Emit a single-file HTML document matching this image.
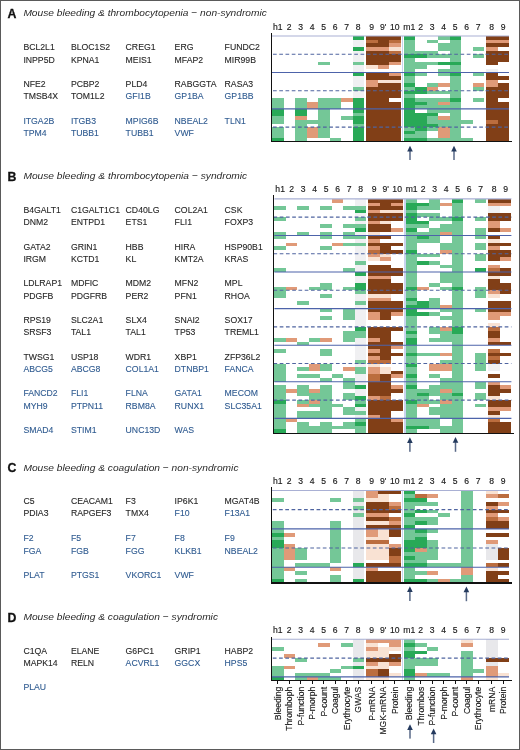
<!DOCTYPE html>
<html><head><meta charset="utf-8"><style>
html,body{margin:0;padding:0;background:#fff;}
body{width:520px;height:750px;overflow:hidden;position:relative;}
svg{position:absolute;left:0;top:0;display:block;filter:blur(0.3px);}
text{font-family:"Liberation Sans",sans-serif;}
.hd{font-size:8.6px;fill:#1a1a1a;text-anchor:middle;stroke:#1a1a1a;stroke-width:0.15px;}
.rl{font-size:8.6px;fill:#1a1a1a;text-anchor:end;stroke:#1a1a1a;stroke-width:0.15px;}
.pl{font-size:12.3px;font-weight:bold;fill:#111;stroke:#111;stroke-width:0.3px;}
.ti{font-size:9.6px;font-style:italic;fill:#2a2a2a;}
.gk{font-size:8.7px;fill:#262626;stroke:#262626;stroke-width:0.1px;}
.gb{font-size:8.7px;fill:#2e5a90;stroke:#2e5a90;stroke-width:0.1px;}
</style></head><body>
<svg width="520" height="750" viewBox="0 0 520 750" shape-rendering="crispEdges">
<rect x="0" y="0" width="520" height="750" fill="#fff"/>
<rect x="401.60" y="36.00" width="1.80" height="105.73" fill="#c9d4ee"/>
<rect x="352.50" y="36.00" width="11.50" height="3.65" fill="#28a957"/>
<rect x="366.00" y="36.00" width="11.50" height="3.65" fill="#813f17"/>
<rect x="377.50" y="36.00" width="11.50" height="3.65" fill="#813f17"/>
<rect x="389.00" y="36.00" width="11.50" height="3.65" fill="#813f17"/>
<rect x="403.50" y="36.00" width="11.50" height="3.65" fill="#28a957"/>
<rect x="438.00" y="36.00" width="11.50" height="3.65" fill="#74c797"/>
<rect x="449.50" y="36.00" width="11.50" height="3.65" fill="#28a957"/>
<rect x="486.00" y="36.00" width="11.50" height="3.65" fill="#813f17"/>
<rect x="497.50" y="36.00" width="11.50" height="3.65" fill="#813f17"/>
<rect x="352.50" y="39.65" width="11.50" height="3.65" fill="#f0f0f2"/>
<rect x="366.00" y="39.65" width="11.50" height="3.65" fill="#bb6d3e"/>
<rect x="377.50" y="39.65" width="11.50" height="3.65" fill="#813f17"/>
<rect x="389.00" y="39.65" width="11.50" height="3.65" fill="#bb6d3e"/>
<rect x="403.50" y="39.65" width="11.50" height="3.65" fill="#74c797"/>
<rect x="426.50" y="39.65" width="11.50" height="3.65" fill="#74c797"/>
<rect x="449.50" y="39.65" width="11.50" height="3.65" fill="#74c797"/>
<rect x="486.00" y="39.65" width="11.50" height="3.65" fill="#e09a78"/>
<rect x="497.50" y="39.65" width="11.50" height="3.65" fill="#e09a78"/>
<rect x="352.50" y="43.29" width="11.50" height="3.65" fill="#f0f0f2"/>
<rect x="366.00" y="43.29" width="11.50" height="3.65" fill="#813f17"/>
<rect x="377.50" y="43.29" width="11.50" height="3.65" fill="#813f17"/>
<rect x="389.00" y="43.29" width="11.50" height="3.65" fill="#e09a78"/>
<rect x="403.50" y="43.29" width="11.50" height="3.65" fill="#74c797"/>
<rect x="438.00" y="43.29" width="11.50" height="3.65" fill="#74c797"/>
<rect x="449.50" y="43.29" width="11.50" height="3.65" fill="#74c797"/>
<rect x="486.00" y="43.29" width="11.50" height="3.65" fill="#813f17"/>
<rect x="497.50" y="43.29" width="11.50" height="3.65" fill="#813f17"/>
<rect x="352.50" y="46.94" width="11.50" height="3.65" fill="#28a957"/>
<rect x="366.00" y="46.94" width="11.50" height="3.65" fill="#e09a78"/>
<rect x="377.50" y="46.94" width="11.50" height="3.65" fill="#e09a78"/>
<rect x="389.00" y="46.94" width="11.50" height="3.65" fill="#f9e2d3"/>
<rect x="403.50" y="46.94" width="11.50" height="3.65" fill="#74c797"/>
<rect x="438.00" y="46.94" width="11.50" height="3.65" fill="#74c797"/>
<rect x="449.50" y="46.94" width="11.50" height="3.65" fill="#74c797"/>
<rect x="472.50" y="46.94" width="11.50" height="3.65" fill="#74c797"/>
<rect x="486.00" y="46.94" width="11.50" height="3.65" fill="#e09a78"/>
<rect x="352.50" y="50.58" width="11.50" height="3.65" fill="#f0f0f2"/>
<rect x="366.00" y="50.58" width="11.50" height="3.65" fill="#813f17"/>
<rect x="377.50" y="50.58" width="11.50" height="3.65" fill="#813f17"/>
<rect x="389.00" y="50.58" width="11.50" height="3.65" fill="#bb6d3e"/>
<rect x="403.50" y="50.58" width="11.50" height="3.65" fill="#74c797"/>
<rect x="415.00" y="50.58" width="11.50" height="3.65" fill="#74c797"/>
<rect x="426.50" y="50.58" width="11.50" height="3.65" fill="#74c797"/>
<rect x="449.50" y="50.58" width="11.50" height="3.65" fill="#74c797"/>
<rect x="486.00" y="50.58" width="11.50" height="3.65" fill="#813f17"/>
<rect x="497.50" y="50.58" width="11.50" height="3.65" fill="#813f17"/>
<rect x="352.50" y="54.23" width="11.50" height="3.65" fill="#f0f0f2"/>
<rect x="366.00" y="54.23" width="11.50" height="3.65" fill="#813f17"/>
<rect x="377.50" y="54.23" width="11.50" height="3.65" fill="#813f17"/>
<rect x="389.00" y="54.23" width="11.50" height="3.65" fill="#813f17"/>
<rect x="403.50" y="54.23" width="11.50" height="3.65" fill="#28a957"/>
<rect x="415.00" y="54.23" width="11.50" height="3.65" fill="#28a957"/>
<rect x="426.50" y="54.23" width="11.50" height="3.65" fill="#74c797"/>
<rect x="438.00" y="54.23" width="11.50" height="3.65" fill="#74c797"/>
<rect x="449.50" y="54.23" width="11.50" height="3.65" fill="#74c797"/>
<rect x="472.50" y="54.23" width="11.50" height="3.65" fill="#74c797"/>
<rect x="486.00" y="54.23" width="11.50" height="3.65" fill="#813f17"/>
<rect x="497.50" y="54.23" width="11.50" height="3.65" fill="#813f17"/>
<rect x="352.50" y="57.88" width="11.50" height="3.65" fill="#f0f0f2"/>
<rect x="366.00" y="57.88" width="11.50" height="3.65" fill="#813f17"/>
<rect x="377.50" y="57.88" width="11.50" height="3.65" fill="#813f17"/>
<rect x="389.00" y="57.88" width="11.50" height="3.65" fill="#813f17"/>
<rect x="403.50" y="57.88" width="11.50" height="3.65" fill="#74c797"/>
<rect x="449.50" y="57.88" width="11.50" height="3.65" fill="#74c797"/>
<rect x="486.00" y="57.88" width="11.50" height="3.65" fill="#813f17"/>
<rect x="497.50" y="57.88" width="11.50" height="3.65" fill="#813f17"/>
<rect x="318.00" y="61.52" width="11.50" height="3.65" fill="#74c797"/>
<rect x="352.50" y="61.52" width="11.50" height="3.65" fill="#74c797"/>
<rect x="366.00" y="61.52" width="11.50" height="3.65" fill="#813f17"/>
<rect x="377.50" y="61.52" width="11.50" height="3.65" fill="#813f17"/>
<rect x="389.00" y="61.52" width="11.50" height="3.65" fill="#e09a78"/>
<rect x="403.50" y="61.52" width="11.50" height="3.65" fill="#74c797"/>
<rect x="415.00" y="61.52" width="11.50" height="3.65" fill="#74c797"/>
<rect x="426.50" y="61.52" width="11.50" height="3.65" fill="#74c797"/>
<rect x="438.00" y="61.52" width="11.50" height="3.65" fill="#28a957"/>
<rect x="449.50" y="61.52" width="11.50" height="3.65" fill="#28a957"/>
<rect x="486.00" y="61.52" width="11.50" height="3.65" fill="#813f17"/>
<rect x="352.50" y="65.17" width="11.50" height="3.65" fill="#f0f0f2"/>
<rect x="366.00" y="65.17" width="11.50" height="3.65" fill="#f9e2d3"/>
<rect x="377.50" y="65.17" width="11.50" height="3.65" fill="#e09a78"/>
<rect x="403.50" y="65.17" width="11.50" height="3.65" fill="#74c797"/>
<rect x="415.00" y="65.17" width="11.50" height="3.65" fill="#74c797"/>
<rect x="449.50" y="65.17" width="11.50" height="3.65" fill="#74c797"/>
<rect x="352.50" y="68.81" width="11.50" height="3.65" fill="#f0f0f2"/>
<rect x="403.50" y="68.81" width="11.50" height="3.65" fill="#74c797"/>
<rect x="438.00" y="68.81" width="11.50" height="3.65" fill="#74c797"/>
<rect x="449.50" y="68.81" width="11.50" height="3.65" fill="#74c797"/>
<rect x="486.00" y="68.81" width="11.50" height="3.65" fill="#f0f0f2"/>
<rect x="352.50" y="72.46" width="11.50" height="3.65" fill="#28a957"/>
<rect x="366.00" y="72.46" width="11.50" height="3.65" fill="#813f17"/>
<rect x="377.50" y="72.46" width="11.50" height="3.65" fill="#813f17"/>
<rect x="389.00" y="72.46" width="11.50" height="3.65" fill="#e09a78"/>
<rect x="403.50" y="72.46" width="11.50" height="3.65" fill="#28a957"/>
<rect x="415.00" y="72.46" width="11.50" height="3.65" fill="#74c797"/>
<rect x="438.00" y="72.46" width="11.50" height="3.65" fill="#74c797"/>
<rect x="449.50" y="72.46" width="11.50" height="3.65" fill="#28a957"/>
<rect x="472.50" y="72.46" width="11.50" height="3.65" fill="#74c797"/>
<rect x="486.00" y="72.46" width="11.50" height="3.65" fill="#813f17"/>
<rect x="352.50" y="76.11" width="11.50" height="3.65" fill="#f0f0f2"/>
<rect x="366.00" y="76.11" width="11.50" height="3.65" fill="#813f17"/>
<rect x="377.50" y="76.11" width="11.50" height="3.65" fill="#813f17"/>
<rect x="389.00" y="76.11" width="11.50" height="3.65" fill="#813f17"/>
<rect x="403.50" y="76.11" width="11.50" height="3.65" fill="#74c797"/>
<rect x="449.50" y="76.11" width="11.50" height="3.65" fill="#74c797"/>
<rect x="486.00" y="76.11" width="11.50" height="3.65" fill="#813f17"/>
<rect x="497.50" y="76.11" width="11.50" height="3.65" fill="#813f17"/>
<rect x="352.50" y="79.75" width="11.50" height="3.65" fill="#f0f0f2"/>
<rect x="366.00" y="79.75" width="11.50" height="3.65" fill="#e09a78"/>
<rect x="377.50" y="79.75" width="11.50" height="3.65" fill="#f9e2d3"/>
<rect x="389.00" y="79.75" width="11.50" height="3.65" fill="#f9e2d3"/>
<rect x="403.50" y="79.75" width="11.50" height="3.65" fill="#74c797"/>
<rect x="449.50" y="79.75" width="11.50" height="3.65" fill="#74c797"/>
<rect x="486.00" y="79.75" width="11.50" height="3.65" fill="#e09a78"/>
<rect x="352.50" y="83.40" width="11.50" height="3.65" fill="#f0f0f2"/>
<rect x="366.00" y="83.40" width="11.50" height="3.65" fill="#e09a78"/>
<rect x="377.50" y="83.40" width="11.50" height="3.65" fill="#813f17"/>
<rect x="389.00" y="83.40" width="11.50" height="3.65" fill="#813f17"/>
<rect x="403.50" y="83.40" width="11.50" height="3.65" fill="#28a957"/>
<rect x="426.50" y="83.40" width="11.50" height="3.65" fill="#74c797"/>
<rect x="438.00" y="83.40" width="11.50" height="3.65" fill="#e09a78"/>
<rect x="449.50" y="83.40" width="11.50" height="3.65" fill="#74c797"/>
<rect x="472.50" y="83.40" width="11.50" height="3.65" fill="#e09a78"/>
<rect x="486.00" y="83.40" width="11.50" height="3.65" fill="#e09a78"/>
<rect x="497.50" y="83.40" width="11.50" height="3.65" fill="#813f17"/>
<rect x="352.50" y="87.04" width="11.50" height="3.65" fill="#74c797"/>
<rect x="366.00" y="87.04" width="11.50" height="3.65" fill="#813f17"/>
<rect x="377.50" y="87.04" width="11.50" height="3.65" fill="#813f17"/>
<rect x="389.00" y="87.04" width="11.50" height="3.65" fill="#813f17"/>
<rect x="403.50" y="87.04" width="11.50" height="3.65" fill="#74c797"/>
<rect x="415.00" y="87.04" width="11.50" height="3.65" fill="#28a957"/>
<rect x="426.50" y="87.04" width="11.50" height="3.65" fill="#e09a78"/>
<rect x="449.50" y="87.04" width="11.50" height="3.65" fill="#74c797"/>
<rect x="472.50" y="87.04" width="11.50" height="3.65" fill="#74c797"/>
<rect x="486.00" y="87.04" width="11.50" height="3.65" fill="#813f17"/>
<rect x="497.50" y="87.04" width="11.50" height="3.65" fill="#813f17"/>
<rect x="352.50" y="90.69" width="11.50" height="3.65" fill="#f0f0f2"/>
<rect x="366.00" y="90.69" width="11.50" height="3.65" fill="#813f17"/>
<rect x="377.50" y="90.69" width="11.50" height="3.65" fill="#813f17"/>
<rect x="389.00" y="90.69" width="11.50" height="3.65" fill="#813f17"/>
<rect x="403.50" y="90.69" width="11.50" height="3.65" fill="#28a957"/>
<rect x="415.00" y="90.69" width="11.50" height="3.65" fill="#28a957"/>
<rect x="426.50" y="90.69" width="11.50" height="3.65" fill="#74c797"/>
<rect x="438.00" y="90.69" width="11.50" height="3.65" fill="#74c797"/>
<rect x="449.50" y="90.69" width="11.50" height="3.65" fill="#74c797"/>
<rect x="486.00" y="90.69" width="11.50" height="3.65" fill="#813f17"/>
<rect x="497.50" y="90.69" width="11.50" height="3.65" fill="#813f17"/>
<rect x="352.50" y="94.34" width="11.50" height="3.65" fill="#f0f0f2"/>
<rect x="366.00" y="94.34" width="11.50" height="3.65" fill="#813f17"/>
<rect x="377.50" y="94.34" width="11.50" height="3.65" fill="#813f17"/>
<rect x="389.00" y="94.34" width="11.50" height="3.65" fill="#813f17"/>
<rect x="403.50" y="94.34" width="11.50" height="3.65" fill="#74c797"/>
<rect x="449.50" y="94.34" width="11.50" height="3.65" fill="#74c797"/>
<rect x="486.00" y="94.34" width="11.50" height="3.65" fill="#813f17"/>
<rect x="497.50" y="94.34" width="11.50" height="3.65" fill="#813f17"/>
<rect x="272.00" y="97.98" width="11.50" height="3.65" fill="#74c797"/>
<rect x="295.00" y="97.98" width="11.50" height="3.65" fill="#74c797"/>
<rect x="318.00" y="97.98" width="11.50" height="3.65" fill="#74c797"/>
<rect x="329.50" y="97.98" width="11.50" height="3.65" fill="#74c797"/>
<rect x="341.00" y="97.98" width="11.50" height="3.65" fill="#e09a78"/>
<rect x="352.50" y="97.98" width="11.50" height="3.65" fill="#28a957"/>
<rect x="366.00" y="97.98" width="11.50" height="3.65" fill="#813f17"/>
<rect x="377.50" y="97.98" width="11.50" height="3.65" fill="#813f17"/>
<rect x="403.50" y="97.98" width="11.50" height="3.65" fill="#28a957"/>
<rect x="415.00" y="97.98" width="11.50" height="3.65" fill="#74c797"/>
<rect x="426.50" y="97.98" width="11.50" height="3.65" fill="#74c797"/>
<rect x="438.00" y="97.98" width="11.50" height="3.65" fill="#74c797"/>
<rect x="449.50" y="97.98" width="11.50" height="3.65" fill="#28a957"/>
<rect x="472.50" y="97.98" width="11.50" height="3.65" fill="#74c797"/>
<rect x="486.00" y="97.98" width="11.50" height="3.65" fill="#813f17"/>
<rect x="272.00" y="101.63" width="11.50" height="3.65" fill="#74c797"/>
<rect x="295.00" y="101.63" width="11.50" height="3.65" fill="#74c797"/>
<rect x="306.50" y="101.63" width="11.50" height="3.65" fill="#e09a78"/>
<rect x="318.00" y="101.63" width="11.50" height="3.65" fill="#74c797"/>
<rect x="329.50" y="101.63" width="11.50" height="3.65" fill="#74c797"/>
<rect x="352.50" y="101.63" width="11.50" height="3.65" fill="#28a957"/>
<rect x="366.00" y="101.63" width="11.50" height="3.65" fill="#813f17"/>
<rect x="377.50" y="101.63" width="11.50" height="3.65" fill="#813f17"/>
<rect x="389.00" y="101.63" width="11.50" height="3.65" fill="#813f17"/>
<rect x="403.50" y="101.63" width="11.50" height="3.65" fill="#28a957"/>
<rect x="415.00" y="101.63" width="11.50" height="3.65" fill="#28a957"/>
<rect x="426.50" y="101.63" width="11.50" height="3.65" fill="#74c797"/>
<rect x="438.00" y="101.63" width="11.50" height="3.65" fill="#e09a78"/>
<rect x="449.50" y="101.63" width="11.50" height="3.65" fill="#74c797"/>
<rect x="486.00" y="101.63" width="11.50" height="3.65" fill="#813f17"/>
<rect x="497.50" y="101.63" width="11.50" height="3.65" fill="#813f17"/>
<rect x="272.00" y="105.27" width="11.50" height="3.65" fill="#74c797"/>
<rect x="295.00" y="105.27" width="11.50" height="3.65" fill="#74c797"/>
<rect x="306.50" y="105.27" width="11.50" height="3.65" fill="#e09a78"/>
<rect x="318.00" y="105.27" width="11.50" height="3.65" fill="#74c797"/>
<rect x="329.50" y="105.27" width="11.50" height="3.65" fill="#74c797"/>
<rect x="352.50" y="105.27" width="11.50" height="3.65" fill="#28a957"/>
<rect x="366.00" y="105.27" width="11.50" height="3.65" fill="#813f17"/>
<rect x="377.50" y="105.27" width="11.50" height="3.65" fill="#813f17"/>
<rect x="389.00" y="105.27" width="11.50" height="3.65" fill="#813f17"/>
<rect x="403.50" y="105.27" width="11.50" height="3.65" fill="#28a957"/>
<rect x="415.00" y="105.27" width="11.50" height="3.65" fill="#74c797"/>
<rect x="426.50" y="105.27" width="11.50" height="3.65" fill="#74c797"/>
<rect x="438.00" y="105.27" width="11.50" height="3.65" fill="#74c797"/>
<rect x="449.50" y="105.27" width="11.50" height="3.65" fill="#74c797"/>
<rect x="486.00" y="105.27" width="11.50" height="3.65" fill="#813f17"/>
<rect x="497.50" y="105.27" width="11.50" height="3.65" fill="#813f17"/>
<rect x="272.00" y="108.92" width="11.50" height="3.65" fill="#28a957"/>
<rect x="295.00" y="108.92" width="11.50" height="3.65" fill="#28a957"/>
<rect x="318.00" y="108.92" width="11.50" height="3.65" fill="#74c797"/>
<rect x="352.50" y="108.92" width="11.50" height="3.65" fill="#28a957"/>
<rect x="366.00" y="108.92" width="11.50" height="3.65" fill="#813f17"/>
<rect x="377.50" y="108.92" width="11.50" height="3.65" fill="#813f17"/>
<rect x="389.00" y="108.92" width="11.50" height="3.65" fill="#813f17"/>
<rect x="403.50" y="108.92" width="11.50" height="3.65" fill="#28a957"/>
<rect x="426.50" y="108.92" width="11.50" height="3.65" fill="#74c797"/>
<rect x="438.00" y="108.92" width="11.50" height="3.65" fill="#74c797"/>
<rect x="449.50" y="108.92" width="11.50" height="3.65" fill="#74c797"/>
<rect x="486.00" y="108.92" width="11.50" height="3.65" fill="#813f17"/>
<rect x="497.50" y="108.92" width="11.50" height="3.65" fill="#813f17"/>
<rect x="272.00" y="112.57" width="11.50" height="3.65" fill="#28a957"/>
<rect x="295.00" y="112.57" width="11.50" height="3.65" fill="#28a957"/>
<rect x="318.00" y="112.57" width="11.50" height="3.65" fill="#74c797"/>
<rect x="352.50" y="112.57" width="11.50" height="3.65" fill="#74c797"/>
<rect x="366.00" y="112.57" width="11.50" height="3.65" fill="#813f17"/>
<rect x="377.50" y="112.57" width="11.50" height="3.65" fill="#813f17"/>
<rect x="389.00" y="112.57" width="11.50" height="3.65" fill="#813f17"/>
<rect x="403.50" y="112.57" width="11.50" height="3.65" fill="#28a957"/>
<rect x="415.00" y="112.57" width="11.50" height="3.65" fill="#28a957"/>
<rect x="426.50" y="112.57" width="11.50" height="3.65" fill="#28a957"/>
<rect x="449.50" y="112.57" width="11.50" height="3.65" fill="#74c797"/>
<rect x="486.00" y="112.57" width="11.50" height="3.65" fill="#813f17"/>
<rect x="497.50" y="112.57" width="11.50" height="3.65" fill="#813f17"/>
<rect x="272.00" y="116.21" width="11.50" height="3.65" fill="#74c797"/>
<rect x="295.00" y="116.21" width="11.50" height="3.65" fill="#e09a78"/>
<rect x="318.00" y="116.21" width="11.50" height="3.65" fill="#74c797"/>
<rect x="341.00" y="116.21" width="11.50" height="3.65" fill="#74c797"/>
<rect x="352.50" y="116.21" width="11.50" height="3.65" fill="#28a957"/>
<rect x="366.00" y="116.21" width="11.50" height="3.65" fill="#813f17"/>
<rect x="377.50" y="116.21" width="11.50" height="3.65" fill="#813f17"/>
<rect x="389.00" y="116.21" width="11.50" height="3.65" fill="#813f17"/>
<rect x="403.50" y="116.21" width="11.50" height="3.65" fill="#28a957"/>
<rect x="415.00" y="116.21" width="11.50" height="3.65" fill="#28a957"/>
<rect x="426.50" y="116.21" width="11.50" height="3.65" fill="#74c797"/>
<rect x="438.00" y="116.21" width="11.50" height="3.65" fill="#e09a78"/>
<rect x="449.50" y="116.21" width="11.50" height="3.65" fill="#74c797"/>
<rect x="486.00" y="116.21" width="11.50" height="3.65" fill="#813f17"/>
<rect x="497.50" y="116.21" width="11.50" height="3.65" fill="#813f17"/>
<rect x="272.00" y="119.86" width="11.50" height="3.65" fill="#74c797"/>
<rect x="295.00" y="119.86" width="11.50" height="3.65" fill="#74c797"/>
<rect x="306.50" y="119.86" width="11.50" height="3.65" fill="#74c797"/>
<rect x="318.00" y="119.86" width="11.50" height="3.65" fill="#74c797"/>
<rect x="352.50" y="119.86" width="11.50" height="3.65" fill="#28a957"/>
<rect x="366.00" y="119.86" width="11.50" height="3.65" fill="#813f17"/>
<rect x="377.50" y="119.86" width="11.50" height="3.65" fill="#813f17"/>
<rect x="389.00" y="119.86" width="11.50" height="3.65" fill="#813f17"/>
<rect x="403.50" y="119.86" width="11.50" height="3.65" fill="#28a957"/>
<rect x="415.00" y="119.86" width="11.50" height="3.65" fill="#28a957"/>
<rect x="426.50" y="119.86" width="11.50" height="3.65" fill="#74c797"/>
<rect x="438.00" y="119.86" width="11.50" height="3.65" fill="#74c797"/>
<rect x="449.50" y="119.86" width="11.50" height="3.65" fill="#74c797"/>
<rect x="461.00" y="119.86" width="11.50" height="3.65" fill="#74c797"/>
<rect x="486.00" y="119.86" width="11.50" height="3.65" fill="#bb6d3e"/>
<rect x="497.50" y="119.86" width="11.50" height="3.65" fill="#813f17"/>
<rect x="295.00" y="123.50" width="11.50" height="3.65" fill="#74c797"/>
<rect x="318.00" y="123.50" width="11.50" height="3.65" fill="#74c797"/>
<rect x="352.50" y="123.50" width="11.50" height="3.65" fill="#74c797"/>
<rect x="366.00" y="123.50" width="11.50" height="3.65" fill="#813f17"/>
<rect x="377.50" y="123.50" width="11.50" height="3.65" fill="#813f17"/>
<rect x="389.00" y="123.50" width="11.50" height="3.65" fill="#813f17"/>
<rect x="403.50" y="123.50" width="11.50" height="3.65" fill="#28a957"/>
<rect x="415.00" y="123.50" width="11.50" height="3.65" fill="#28a957"/>
<rect x="426.50" y="123.50" width="11.50" height="3.65" fill="#28a957"/>
<rect x="438.00" y="123.50" width="11.50" height="3.65" fill="#74c797"/>
<rect x="449.50" y="123.50" width="11.50" height="3.65" fill="#74c797"/>
<rect x="486.00" y="123.50" width="11.50" height="3.65" fill="#813f17"/>
<rect x="497.50" y="123.50" width="11.50" height="3.65" fill="#813f17"/>
<rect x="272.00" y="127.15" width="11.50" height="3.65" fill="#74c797"/>
<rect x="295.00" y="127.15" width="11.50" height="3.65" fill="#74c797"/>
<rect x="306.50" y="127.15" width="11.50" height="3.65" fill="#e09a78"/>
<rect x="318.00" y="127.15" width="11.50" height="3.65" fill="#74c797"/>
<rect x="352.50" y="127.15" width="11.50" height="3.65" fill="#28a957"/>
<rect x="366.00" y="127.15" width="11.50" height="3.65" fill="#813f17"/>
<rect x="377.50" y="127.15" width="11.50" height="3.65" fill="#813f17"/>
<rect x="389.00" y="127.15" width="11.50" height="3.65" fill="#813f17"/>
<rect x="403.50" y="127.15" width="11.50" height="3.65" fill="#74c797"/>
<rect x="415.00" y="127.15" width="11.50" height="3.65" fill="#28a957"/>
<rect x="426.50" y="127.15" width="11.50" height="3.65" fill="#74c797"/>
<rect x="438.00" y="127.15" width="11.50" height="3.65" fill="#e09a78"/>
<rect x="449.50" y="127.15" width="11.50" height="3.65" fill="#74c797"/>
<rect x="486.00" y="127.15" width="11.50" height="3.65" fill="#813f17"/>
<rect x="497.50" y="127.15" width="11.50" height="3.65" fill="#813f17"/>
<rect x="272.00" y="130.80" width="11.50" height="3.65" fill="#74c797"/>
<rect x="295.00" y="130.80" width="11.50" height="3.65" fill="#74c797"/>
<rect x="306.50" y="130.80" width="11.50" height="3.65" fill="#e09a78"/>
<rect x="318.00" y="130.80" width="11.50" height="3.65" fill="#74c797"/>
<rect x="352.50" y="130.80" width="11.50" height="3.65" fill="#28a957"/>
<rect x="366.00" y="130.80" width="11.50" height="3.65" fill="#813f17"/>
<rect x="377.50" y="130.80" width="11.50" height="3.65" fill="#813f17"/>
<rect x="389.00" y="130.80" width="11.50" height="3.65" fill="#813f17"/>
<rect x="403.50" y="130.80" width="11.50" height="3.65" fill="#28a957"/>
<rect x="415.00" y="130.80" width="11.50" height="3.65" fill="#74c797"/>
<rect x="438.00" y="130.80" width="11.50" height="3.65" fill="#e09a78"/>
<rect x="449.50" y="130.80" width="11.50" height="3.65" fill="#74c797"/>
<rect x="486.00" y="130.80" width="11.50" height="3.65" fill="#813f17"/>
<rect x="497.50" y="130.80" width="11.50" height="3.65" fill="#813f17"/>
<rect x="272.00" y="134.44" width="11.50" height="3.65" fill="#74c797"/>
<rect x="295.00" y="134.44" width="11.50" height="3.65" fill="#74c797"/>
<rect x="306.50" y="134.44" width="11.50" height="3.65" fill="#e09a78"/>
<rect x="318.00" y="134.44" width="11.50" height="3.65" fill="#74c797"/>
<rect x="352.50" y="134.44" width="11.50" height="3.65" fill="#28a957"/>
<rect x="366.00" y="134.44" width="11.50" height="3.65" fill="#813f17"/>
<rect x="377.50" y="134.44" width="11.50" height="3.65" fill="#813f17"/>
<rect x="389.00" y="134.44" width="11.50" height="3.65" fill="#813f17"/>
<rect x="403.50" y="134.44" width="11.50" height="3.65" fill="#74c797"/>
<rect x="415.00" y="134.44" width="11.50" height="3.65" fill="#74c797"/>
<rect x="438.00" y="134.44" width="11.50" height="3.65" fill="#e09a78"/>
<rect x="449.50" y="134.44" width="11.50" height="3.65" fill="#74c797"/>
<rect x="486.00" y="134.44" width="11.50" height="3.65" fill="#813f17"/>
<rect x="497.50" y="134.44" width="11.50" height="3.65" fill="#813f17"/>
<rect x="272.00" y="138.09" width="11.50" height="3.65" fill="#28a957"/>
<rect x="295.00" y="138.09" width="11.50" height="3.65" fill="#74c797"/>
<rect x="329.50" y="138.09" width="11.50" height="3.65" fill="#74c797"/>
<rect x="352.50" y="138.09" width="11.50" height="3.65" fill="#28a957"/>
<rect x="366.00" y="138.09" width="11.50" height="3.65" fill="#813f17"/>
<rect x="377.50" y="138.09" width="11.50" height="3.65" fill="#813f17"/>
<rect x="389.00" y="138.09" width="11.50" height="3.65" fill="#813f17"/>
<rect x="403.50" y="138.09" width="11.50" height="3.65" fill="#28a957"/>
<rect x="415.00" y="138.09" width="11.50" height="3.65" fill="#28a957"/>
<rect x="426.50" y="138.09" width="11.50" height="3.65" fill="#74c797"/>
<rect x="438.00" y="138.09" width="11.50" height="3.65" fill="#74c797"/>
<rect x="449.50" y="138.09" width="11.50" height="3.65" fill="#74c797"/>
<rect x="461.00" y="138.09" width="11.50" height="3.65" fill="#74c797"/>
<rect x="486.00" y="138.09" width="11.50" height="3.65" fill="#813f17"/>
<rect x="497.50" y="138.09" width="11.50" height="3.65" fill="#813f17"/>
<line x1="272.00" y1="36.00" x2="509.00" y2="36.00" stroke="#a9b0d4" stroke-width="1.1" shape-rendering="auto"/>
<line x1="273.00" y1="54.23" x2="509.00" y2="54.23" stroke="#4f64a0" stroke-width="1.1" stroke-dasharray="3.7 2.55" shape-rendering="auto"/>
<line x1="272.00" y1="72.46" x2="509.00" y2="72.46" stroke="#4d63aa" stroke-width="1.1" shape-rendering="auto"/>
<line x1="273.00" y1="90.69" x2="509.00" y2="90.69" stroke="#4f64a0" stroke-width="1.1" stroke-dasharray="3.7 2.55" shape-rendering="auto"/>
<line x1="272.00" y1="108.92" x2="509.00" y2="108.92" stroke="#4d63aa" stroke-width="1.1" shape-rendering="auto"/>
<line x1="273.00" y1="127.15" x2="509.00" y2="127.15" stroke="#4f64a0" stroke-width="1.1" stroke-dasharray="3.7 2.55" shape-rendering="auto"/>
<line x1="271.30" y1="33.40" x2="271.30" y2="142.20" stroke="#111" stroke-width="1.3"/>
<line x1="270.70" y1="141.60" x2="512.00" y2="141.60" stroke="#111" stroke-width="1.3"/>
<text x="277.75" y="29.60" class="hd">h1</text>
<text x="289.25" y="29.60" class="hd">2</text>
<text x="300.75" y="29.60" class="hd">3</text>
<text x="312.25" y="29.60" class="hd">4</text>
<text x="323.75" y="29.60" class="hd">5</text>
<text x="335.25" y="29.60" class="hd">6</text>
<text x="346.75" y="29.60" class="hd">7</text>
<text x="358.25" y="29.60" class="hd">8</text>
<text x="371.75" y="29.60" class="hd">9</text>
<text x="383.25" y="29.60" class="hd">9'</text>
<text x="394.75" y="29.60" class="hd">10</text>
<text x="409.25" y="29.60" class="hd">m1</text>
<text x="420.75" y="29.60" class="hd">2</text>
<text x="432.25" y="29.60" class="hd">3</text>
<text x="443.75" y="29.60" class="hd">4</text>
<text x="455.25" y="29.60" class="hd">5</text>
<text x="466.75" y="29.60" class="hd">6</text>
<text x="478.25" y="29.60" class="hd">7</text>
<text x="491.75" y="29.60" class="hd">8</text>
<text x="503.25" y="29.60" class="hd">9</text>
<rect x="409.25" y="150.80" width="1.5" height="9.20" fill="#5a6a88" shape-rendering="auto"/><path d="M407.20 151.50 L410.00 145.80 L412.80 151.50 Z" fill="#243a5e" shape-rendering="auto"/>
<rect x="453.25" y="150.80" width="1.5" height="9.20" fill="#5a6a88" shape-rendering="auto"/><path d="M451.20 151.50 L454.00 145.80 L456.80 151.50 Z" fill="#243a5e" shape-rendering="auto"/>
<rect x="404.00" y="198.85" width="1.80" height="234.18" fill="#c9d4ee"/>
<rect x="331.90" y="198.85" width="11.50" height="3.66" fill="#e09a78"/>
<rect x="354.90" y="198.85" width="11.50" height="3.66" fill="#f0f0f2"/>
<rect x="368.40" y="198.85" width="11.50" height="3.66" fill="#813f17"/>
<rect x="379.90" y="198.85" width="11.50" height="3.66" fill="#813f17"/>
<rect x="391.40" y="198.85" width="11.50" height="3.66" fill="#813f17"/>
<rect x="405.90" y="198.85" width="11.50" height="3.66" fill="#74c797"/>
<rect x="428.90" y="198.85" width="11.50" height="3.66" fill="#74c797"/>
<rect x="451.90" y="198.85" width="11.50" height="3.66" fill="#28a957"/>
<rect x="474.90" y="198.85" width="11.50" height="3.66" fill="#74c797"/>
<rect x="488.40" y="198.85" width="11.50" height="3.66" fill="#813f17"/>
<rect x="499.90" y="198.85" width="11.50" height="3.66" fill="#813f17"/>
<rect x="354.90" y="202.51" width="11.50" height="3.66" fill="#f0f0f2"/>
<rect x="368.40" y="202.51" width="11.50" height="3.66" fill="#e09a78"/>
<rect x="379.90" y="202.51" width="11.50" height="3.66" fill="#813f17"/>
<rect x="391.40" y="202.51" width="11.50" height="3.66" fill="#e09a78"/>
<rect x="405.90" y="202.51" width="11.50" height="3.66" fill="#28a957"/>
<rect x="417.40" y="202.51" width="11.50" height="3.66" fill="#28a957"/>
<rect x="428.90" y="202.51" width="11.50" height="3.66" fill="#74c797"/>
<rect x="440.40" y="202.51" width="11.50" height="3.66" fill="#e09a78"/>
<rect x="451.90" y="202.51" width="11.50" height="3.66" fill="#74c797"/>
<rect x="488.40" y="202.51" width="11.50" height="3.66" fill="#e09a78"/>
<rect x="499.90" y="202.51" width="11.50" height="3.66" fill="#e09a78"/>
<rect x="274.40" y="206.17" width="11.50" height="3.66" fill="#74c797"/>
<rect x="297.40" y="206.17" width="11.50" height="3.66" fill="#74c797"/>
<rect x="320.40" y="206.17" width="11.50" height="3.66" fill="#74c797"/>
<rect x="343.40" y="206.17" width="11.50" height="3.66" fill="#74c797"/>
<rect x="354.90" y="206.17" width="11.50" height="3.66" fill="#74c797"/>
<rect x="368.40" y="206.17" width="11.50" height="3.66" fill="#813f17"/>
<rect x="379.90" y="206.17" width="11.50" height="3.66" fill="#813f17"/>
<rect x="391.40" y="206.17" width="11.50" height="3.66" fill="#813f17"/>
<rect x="405.90" y="206.17" width="11.50" height="3.66" fill="#28a957"/>
<rect x="417.40" y="206.17" width="11.50" height="3.66" fill="#74c797"/>
<rect x="428.90" y="206.17" width="11.50" height="3.66" fill="#74c797"/>
<rect x="451.90" y="206.17" width="11.50" height="3.66" fill="#74c797"/>
<rect x="488.40" y="206.17" width="11.50" height="3.66" fill="#f0f0f2"/>
<rect x="354.90" y="209.83" width="11.50" height="3.66" fill="#28a957"/>
<rect x="368.40" y="209.83" width="11.50" height="3.66" fill="#e09a78"/>
<rect x="379.90" y="209.83" width="11.50" height="3.66" fill="#f9e2d3"/>
<rect x="391.40" y="209.83" width="11.50" height="3.66" fill="#f9e2d3"/>
<rect x="405.90" y="209.83" width="11.50" height="3.66" fill="#74c797"/>
<rect x="451.90" y="209.83" width="11.50" height="3.66" fill="#74c797"/>
<rect x="488.40" y="209.83" width="11.50" height="3.66" fill="#f0f0f2"/>
<rect x="354.90" y="213.49" width="11.50" height="3.66" fill="#f0f0f2"/>
<rect x="368.40" y="213.49" width="11.50" height="3.66" fill="#813f17"/>
<rect x="379.90" y="213.49" width="11.50" height="3.66" fill="#813f17"/>
<rect x="391.40" y="213.49" width="11.50" height="3.66" fill="#813f17"/>
<rect x="405.90" y="213.49" width="11.50" height="3.66" fill="#28a957"/>
<rect x="417.40" y="213.49" width="11.50" height="3.66" fill="#74c797"/>
<rect x="428.90" y="213.49" width="11.50" height="3.66" fill="#74c797"/>
<rect x="451.90" y="213.49" width="11.50" height="3.66" fill="#74c797"/>
<rect x="488.40" y="213.49" width="11.50" height="3.66" fill="#813f17"/>
<rect x="499.90" y="213.49" width="11.50" height="3.66" fill="#813f17"/>
<rect x="274.40" y="217.14" width="11.50" height="3.66" fill="#74c797"/>
<rect x="354.90" y="217.14" width="11.50" height="3.66" fill="#74c797"/>
<rect x="368.40" y="217.14" width="11.50" height="3.66" fill="#813f17"/>
<rect x="379.90" y="217.14" width="11.50" height="3.66" fill="#813f17"/>
<rect x="391.40" y="217.14" width="11.50" height="3.66" fill="#813f17"/>
<rect x="405.90" y="217.14" width="11.50" height="3.66" fill="#28a957"/>
<rect x="428.90" y="217.14" width="11.50" height="3.66" fill="#74c797"/>
<rect x="440.40" y="217.14" width="11.50" height="3.66" fill="#74c797"/>
<rect x="451.90" y="217.14" width="11.50" height="3.66" fill="#28a957"/>
<rect x="474.90" y="217.14" width="11.50" height="3.66" fill="#74c797"/>
<rect x="488.40" y="217.14" width="11.50" height="3.66" fill="#813f17"/>
<rect x="499.90" y="217.14" width="11.50" height="3.66" fill="#813f17"/>
<rect x="354.90" y="220.80" width="11.50" height="3.66" fill="#f0f0f2"/>
<rect x="368.40" y="220.80" width="11.50" height="3.66" fill="#e09a78"/>
<rect x="379.90" y="220.80" width="11.50" height="3.66" fill="#f9e2d3"/>
<rect x="405.90" y="220.80" width="11.50" height="3.66" fill="#28a957"/>
<rect x="417.40" y="220.80" width="11.50" height="3.66" fill="#28a957"/>
<rect x="451.90" y="220.80" width="11.50" height="3.66" fill="#74c797"/>
<rect x="488.40" y="220.80" width="11.50" height="3.66" fill="#e09a78"/>
<rect x="320.40" y="224.46" width="11.50" height="3.66" fill="#74c797"/>
<rect x="343.40" y="224.46" width="11.50" height="3.66" fill="#74c797"/>
<rect x="354.90" y="224.46" width="11.50" height="3.66" fill="#74c797"/>
<rect x="368.40" y="224.46" width="11.50" height="3.66" fill="#813f17"/>
<rect x="379.90" y="224.46" width="11.50" height="3.66" fill="#813f17"/>
<rect x="405.90" y="224.46" width="11.50" height="3.66" fill="#74c797"/>
<rect x="417.40" y="224.46" width="11.50" height="3.66" fill="#74c797"/>
<rect x="440.40" y="224.46" width="11.50" height="3.66" fill="#74c797"/>
<rect x="451.90" y="224.46" width="11.50" height="3.66" fill="#74c797"/>
<rect x="488.40" y="224.46" width="11.50" height="3.66" fill="#e09a78"/>
<rect x="354.90" y="228.12" width="11.50" height="3.66" fill="#28a957"/>
<rect x="368.40" y="228.12" width="11.50" height="3.66" fill="#813f17"/>
<rect x="379.90" y="228.12" width="11.50" height="3.66" fill="#813f17"/>
<rect x="391.40" y="228.12" width="11.50" height="3.66" fill="#e09a78"/>
<rect x="405.90" y="228.12" width="11.50" height="3.66" fill="#28a957"/>
<rect x="428.90" y="228.12" width="11.50" height="3.66" fill="#74c797"/>
<rect x="440.40" y="228.12" width="11.50" height="3.66" fill="#74c797"/>
<rect x="451.90" y="228.12" width="11.50" height="3.66" fill="#74c797"/>
<rect x="474.90" y="228.12" width="11.50" height="3.66" fill="#74c797"/>
<rect x="488.40" y="228.12" width="11.50" height="3.66" fill="#813f17"/>
<rect x="499.90" y="228.12" width="11.50" height="3.66" fill="#e09a78"/>
<rect x="274.40" y="231.78" width="11.50" height="3.66" fill="#74c797"/>
<rect x="297.40" y="231.78" width="11.50" height="3.66" fill="#74c797"/>
<rect x="320.40" y="231.78" width="11.50" height="3.66" fill="#74c797"/>
<rect x="343.40" y="231.78" width="11.50" height="3.66" fill="#74c797"/>
<rect x="354.90" y="231.78" width="11.50" height="3.66" fill="#f0f0f2"/>
<rect x="368.40" y="231.78" width="11.50" height="3.66" fill="#f9e2d3"/>
<rect x="405.90" y="231.78" width="11.50" height="3.66" fill="#74c797"/>
<rect x="417.40" y="231.78" width="11.50" height="3.66" fill="#74c797"/>
<rect x="428.90" y="231.78" width="11.50" height="3.66" fill="#74c797"/>
<rect x="440.40" y="231.78" width="11.50" height="3.66" fill="#e09a78"/>
<rect x="451.90" y="231.78" width="11.50" height="3.66" fill="#74c797"/>
<rect x="474.90" y="231.78" width="11.50" height="3.66" fill="#74c797"/>
<rect x="274.40" y="235.44" width="11.50" height="3.66" fill="#74c797"/>
<rect x="320.40" y="235.44" width="11.50" height="3.66" fill="#74c797"/>
<rect x="343.40" y="235.44" width="11.50" height="3.66" fill="#74c797"/>
<rect x="354.90" y="235.44" width="11.50" height="3.66" fill="#74c797"/>
<rect x="368.40" y="235.44" width="11.50" height="3.66" fill="#813f17"/>
<rect x="379.90" y="235.44" width="11.50" height="3.66" fill="#813f17"/>
<rect x="405.90" y="235.44" width="11.50" height="3.66" fill="#74c797"/>
<rect x="417.40" y="235.44" width="11.50" height="3.66" fill="#28a957"/>
<rect x="428.90" y="235.44" width="11.50" height="3.66" fill="#74c797"/>
<rect x="451.90" y="235.44" width="11.50" height="3.66" fill="#74c797"/>
<rect x="474.90" y="235.44" width="11.50" height="3.66" fill="#74c797"/>
<rect x="488.40" y="235.44" width="11.50" height="3.66" fill="#813f17"/>
<rect x="354.90" y="239.10" width="11.50" height="3.66" fill="#f0f0f2"/>
<rect x="368.40" y="239.10" width="11.50" height="3.66" fill="#e09a78"/>
<rect x="405.90" y="239.10" width="11.50" height="3.66" fill="#74c797"/>
<rect x="417.40" y="239.10" width="11.50" height="3.66" fill="#74c797"/>
<rect x="428.90" y="239.10" width="11.50" height="3.66" fill="#74c797"/>
<rect x="451.90" y="239.10" width="11.50" height="3.66" fill="#74c797"/>
<rect x="488.40" y="239.10" width="11.50" height="3.66" fill="#f9e2d3"/>
<rect x="285.90" y="242.76" width="11.50" height="3.66" fill="#e09a78"/>
<rect x="331.90" y="242.76" width="11.50" height="3.66" fill="#e09a78"/>
<rect x="343.40" y="242.76" width="11.50" height="3.66" fill="#74c797"/>
<rect x="354.90" y="242.76" width="11.50" height="3.66" fill="#74c797"/>
<rect x="368.40" y="242.76" width="11.50" height="3.66" fill="#813f17"/>
<rect x="379.90" y="242.76" width="11.50" height="3.66" fill="#813f17"/>
<rect x="391.40" y="242.76" width="11.50" height="3.66" fill="#813f17"/>
<rect x="405.90" y="242.76" width="11.50" height="3.66" fill="#74c797"/>
<rect x="440.40" y="242.76" width="11.50" height="3.66" fill="#74c797"/>
<rect x="451.90" y="242.76" width="11.50" height="3.66" fill="#74c797"/>
<rect x="474.90" y="242.76" width="11.50" height="3.66" fill="#74c797"/>
<rect x="488.40" y="242.76" width="11.50" height="3.66" fill="#813f17"/>
<rect x="499.90" y="242.76" width="11.50" height="3.66" fill="#813f17"/>
<rect x="274.40" y="246.42" width="11.50" height="3.66" fill="#74c797"/>
<rect x="320.40" y="246.42" width="11.50" height="3.66" fill="#74c797"/>
<rect x="354.90" y="246.42" width="11.50" height="3.66" fill="#f0f0f2"/>
<rect x="368.40" y="246.42" width="11.50" height="3.66" fill="#e09a78"/>
<rect x="379.90" y="246.42" width="11.50" height="3.66" fill="#813f17"/>
<rect x="405.90" y="246.42" width="11.50" height="3.66" fill="#74c797"/>
<rect x="440.40" y="246.42" width="11.50" height="3.66" fill="#74c797"/>
<rect x="451.90" y="246.42" width="11.50" height="3.66" fill="#74c797"/>
<rect x="474.90" y="246.42" width="11.50" height="3.66" fill="#74c797"/>
<rect x="488.40" y="246.42" width="11.50" height="3.66" fill="#e09a78"/>
<rect x="354.90" y="250.08" width="11.50" height="3.66" fill="#f0f0f2"/>
<rect x="368.40" y="250.08" width="11.50" height="3.66" fill="#bb6d3e"/>
<rect x="379.90" y="250.08" width="11.50" height="3.66" fill="#813f17"/>
<rect x="391.40" y="250.08" width="11.50" height="3.66" fill="#813f17"/>
<rect x="405.90" y="250.08" width="11.50" height="3.66" fill="#28a957"/>
<rect x="440.40" y="250.08" width="11.50" height="3.66" fill="#e09a78"/>
<rect x="451.90" y="250.08" width="11.50" height="3.66" fill="#74c797"/>
<rect x="488.40" y="250.08" width="11.50" height="3.66" fill="#813f17"/>
<rect x="499.90" y="250.08" width="11.50" height="3.66" fill="#813f17"/>
<rect x="354.90" y="253.73" width="11.50" height="3.66" fill="#f0f0f2"/>
<rect x="368.40" y="253.73" width="11.50" height="3.66" fill="#e09a78"/>
<rect x="379.90" y="253.73" width="11.50" height="3.66" fill="#f9e2d3"/>
<rect x="405.90" y="253.73" width="11.50" height="3.66" fill="#74c797"/>
<rect x="417.40" y="253.73" width="11.50" height="3.66" fill="#74c797"/>
<rect x="428.90" y="253.73" width="11.50" height="3.66" fill="#74c797"/>
<rect x="451.90" y="253.73" width="11.50" height="3.66" fill="#74c797"/>
<rect x="474.90" y="253.73" width="11.50" height="3.66" fill="#74c797"/>
<rect x="488.40" y="253.73" width="11.50" height="3.66" fill="#813f17"/>
<rect x="499.90" y="253.73" width="11.50" height="3.66" fill="#813f17"/>
<rect x="354.90" y="257.39" width="11.50" height="3.66" fill="#f0f0f2"/>
<rect x="368.40" y="257.39" width="11.50" height="3.66" fill="#f9e2d3"/>
<rect x="379.90" y="257.39" width="11.50" height="3.66" fill="#e09a78"/>
<rect x="405.90" y="257.39" width="11.50" height="3.66" fill="#74c797"/>
<rect x="451.90" y="257.39" width="11.50" height="3.66" fill="#74c797"/>
<rect x="474.90" y="257.39" width="11.50" height="3.66" fill="#74c797"/>
<rect x="488.40" y="257.39" width="11.50" height="3.66" fill="#813f17"/>
<rect x="499.90" y="257.39" width="11.50" height="3.66" fill="#e09a78"/>
<rect x="354.90" y="261.05" width="11.50" height="3.66" fill="#74c797"/>
<rect x="405.90" y="261.05" width="11.50" height="3.66" fill="#74c797"/>
<rect x="417.40" y="261.05" width="11.50" height="3.66" fill="#28a957"/>
<rect x="428.90" y="261.05" width="11.50" height="3.66" fill="#74c797"/>
<rect x="451.90" y="261.05" width="11.50" height="3.66" fill="#74c797"/>
<rect x="354.90" y="264.71" width="11.50" height="3.66" fill="#f0f0f2"/>
<rect x="368.40" y="264.71" width="11.50" height="3.66" fill="#813f17"/>
<rect x="379.90" y="264.71" width="11.50" height="3.66" fill="#813f17"/>
<rect x="405.90" y="264.71" width="11.50" height="3.66" fill="#74c797"/>
<rect x="440.40" y="264.71" width="11.50" height="3.66" fill="#74c797"/>
<rect x="451.90" y="264.71" width="11.50" height="3.66" fill="#74c797"/>
<rect x="488.40" y="264.71" width="11.50" height="3.66" fill="#e09a78"/>
<rect x="274.40" y="268.37" width="11.50" height="3.66" fill="#74c797"/>
<rect x="343.40" y="268.37" width="11.50" height="3.66" fill="#74c797"/>
<rect x="354.90" y="268.37" width="11.50" height="3.66" fill="#f0f0f2"/>
<rect x="368.40" y="268.37" width="11.50" height="3.66" fill="#813f17"/>
<rect x="379.90" y="268.37" width="11.50" height="3.66" fill="#813f17"/>
<rect x="391.40" y="268.37" width="11.50" height="3.66" fill="#813f17"/>
<rect x="405.90" y="268.37" width="11.50" height="3.66" fill="#74c797"/>
<rect x="451.90" y="268.37" width="11.50" height="3.66" fill="#74c797"/>
<rect x="474.90" y="268.37" width="11.50" height="3.66" fill="#28a957"/>
<rect x="488.40" y="268.37" width="11.50" height="3.66" fill="#bb6d3e"/>
<rect x="499.90" y="268.37" width="11.50" height="3.66" fill="#813f17"/>
<rect x="354.90" y="272.03" width="11.50" height="3.66" fill="#28a957"/>
<rect x="368.40" y="272.03" width="11.50" height="3.66" fill="#813f17"/>
<rect x="379.90" y="272.03" width="11.50" height="3.66" fill="#813f17"/>
<rect x="391.40" y="272.03" width="11.50" height="3.66" fill="#813f17"/>
<rect x="405.90" y="272.03" width="11.50" height="3.66" fill="#74c797"/>
<rect x="440.40" y="272.03" width="11.50" height="3.66" fill="#74c797"/>
<rect x="451.90" y="272.03" width="11.50" height="3.66" fill="#74c797"/>
<rect x="488.40" y="272.03" width="11.50" height="3.66" fill="#813f17"/>
<rect x="499.90" y="272.03" width="11.50" height="3.66" fill="#813f17"/>
<rect x="354.90" y="275.69" width="11.50" height="3.66" fill="#f0f0f2"/>
<rect x="368.40" y="275.69" width="11.50" height="3.66" fill="#e09a78"/>
<rect x="379.90" y="275.69" width="11.50" height="3.66" fill="#e09a78"/>
<rect x="405.90" y="275.69" width="11.50" height="3.66" fill="#74c797"/>
<rect x="440.40" y="275.69" width="11.50" height="3.66" fill="#74c797"/>
<rect x="451.90" y="275.69" width="11.50" height="3.66" fill="#74c797"/>
<rect x="488.40" y="275.69" width="11.50" height="3.66" fill="#f9e2d3"/>
<rect x="354.90" y="279.35" width="11.50" height="3.66" fill="#f0f0f2"/>
<rect x="368.40" y="279.35" width="11.50" height="3.66" fill="#813f17"/>
<rect x="379.90" y="279.35" width="11.50" height="3.66" fill="#813f17"/>
<rect x="405.90" y="279.35" width="11.50" height="3.66" fill="#74c797"/>
<rect x="440.40" y="279.35" width="11.50" height="3.66" fill="#74c797"/>
<rect x="451.90" y="279.35" width="11.50" height="3.66" fill="#74c797"/>
<rect x="488.40" y="279.35" width="11.50" height="3.66" fill="#813f17"/>
<rect x="320.40" y="283.01" width="11.50" height="3.66" fill="#74c797"/>
<rect x="354.90" y="283.01" width="11.50" height="3.66" fill="#28a957"/>
<rect x="368.40" y="283.01" width="11.50" height="3.66" fill="#813f17"/>
<rect x="379.90" y="283.01" width="11.50" height="3.66" fill="#813f17"/>
<rect x="391.40" y="283.01" width="11.50" height="3.66" fill="#813f17"/>
<rect x="405.90" y="283.01" width="11.50" height="3.66" fill="#74c797"/>
<rect x="428.90" y="283.01" width="11.50" height="3.66" fill="#74c797"/>
<rect x="451.90" y="283.01" width="11.50" height="3.66" fill="#74c797"/>
<rect x="488.40" y="283.01" width="11.50" height="3.66" fill="#813f17"/>
<rect x="499.90" y="283.01" width="11.50" height="3.66" fill="#813f17"/>
<rect x="274.40" y="286.67" width="11.50" height="3.66" fill="#74c797"/>
<rect x="285.90" y="286.67" width="11.50" height="3.66" fill="#e09a78"/>
<rect x="308.90" y="286.67" width="11.50" height="3.66" fill="#74c797"/>
<rect x="320.40" y="286.67" width="11.50" height="3.66" fill="#74c797"/>
<rect x="343.40" y="286.67" width="11.50" height="3.66" fill="#74c797"/>
<rect x="354.90" y="286.67" width="11.50" height="3.66" fill="#28a957"/>
<rect x="368.40" y="286.67" width="11.50" height="3.66" fill="#813f17"/>
<rect x="379.90" y="286.67" width="11.50" height="3.66" fill="#813f17"/>
<rect x="391.40" y="286.67" width="11.50" height="3.66" fill="#813f17"/>
<rect x="405.90" y="286.67" width="11.50" height="3.66" fill="#28a957"/>
<rect x="417.40" y="286.67" width="11.50" height="3.66" fill="#e09a78"/>
<rect x="440.40" y="286.67" width="11.50" height="3.66" fill="#74c797"/>
<rect x="451.90" y="286.67" width="11.50" height="3.66" fill="#28a957"/>
<rect x="474.90" y="286.67" width="11.50" height="3.66" fill="#74c797"/>
<rect x="488.40" y="286.67" width="11.50" height="3.66" fill="#813f17"/>
<rect x="499.90" y="286.67" width="11.50" height="3.66" fill="#813f17"/>
<rect x="274.40" y="290.32" width="11.50" height="3.66" fill="#74c797"/>
<rect x="354.90" y="290.32" width="11.50" height="3.66" fill="#74c797"/>
<rect x="368.40" y="290.32" width="11.50" height="3.66" fill="#813f17"/>
<rect x="379.90" y="290.32" width="11.50" height="3.66" fill="#813f17"/>
<rect x="391.40" y="290.32" width="11.50" height="3.66" fill="#813f17"/>
<rect x="405.90" y="290.32" width="11.50" height="3.66" fill="#74c797"/>
<rect x="451.90" y="290.32" width="11.50" height="3.66" fill="#74c797"/>
<rect x="474.90" y="290.32" width="11.50" height="3.66" fill="#74c797"/>
<rect x="488.40" y="290.32" width="11.50" height="3.66" fill="#e09a78"/>
<rect x="499.90" y="290.32" width="11.50" height="3.66" fill="#813f17"/>
<rect x="274.40" y="293.98" width="11.50" height="3.66" fill="#74c797"/>
<rect x="320.40" y="293.98" width="11.50" height="3.66" fill="#74c797"/>
<rect x="354.90" y="293.98" width="11.50" height="3.66" fill="#f0f0f2"/>
<rect x="368.40" y="293.98" width="11.50" height="3.66" fill="#f9e2d3"/>
<rect x="379.90" y="293.98" width="11.50" height="3.66" fill="#f9e2d3"/>
<rect x="405.90" y="293.98" width="11.50" height="3.66" fill="#74c797"/>
<rect x="451.90" y="293.98" width="11.50" height="3.66" fill="#74c797"/>
<rect x="474.90" y="293.98" width="11.50" height="3.66" fill="#74c797"/>
<rect x="488.40" y="293.98" width="11.50" height="3.66" fill="#f9e2d3"/>
<rect x="354.90" y="297.64" width="11.50" height="3.66" fill="#f0f0f2"/>
<rect x="368.40" y="297.64" width="11.50" height="3.66" fill="#e09a78"/>
<rect x="379.90" y="297.64" width="11.50" height="3.66" fill="#e09a78"/>
<rect x="405.90" y="297.64" width="11.50" height="3.66" fill="#28a957"/>
<rect x="428.90" y="297.64" width="11.50" height="3.66" fill="#74c797"/>
<rect x="451.90" y="297.64" width="11.50" height="3.66" fill="#74c797"/>
<rect x="297.40" y="301.30" width="11.50" height="3.66" fill="#74c797"/>
<rect x="354.90" y="301.30" width="11.50" height="3.66" fill="#74c797"/>
<rect x="368.40" y="301.30" width="11.50" height="3.66" fill="#813f17"/>
<rect x="379.90" y="301.30" width="11.50" height="3.66" fill="#813f17"/>
<rect x="391.40" y="301.30" width="11.50" height="3.66" fill="#813f17"/>
<rect x="405.90" y="301.30" width="11.50" height="3.66" fill="#74c797"/>
<rect x="417.40" y="301.30" width="11.50" height="3.66" fill="#28a957"/>
<rect x="428.90" y="301.30" width="11.50" height="3.66" fill="#74c797"/>
<rect x="451.90" y="301.30" width="11.50" height="3.66" fill="#74c797"/>
<rect x="488.40" y="301.30" width="11.50" height="3.66" fill="#813f17"/>
<rect x="499.90" y="301.30" width="11.50" height="3.66" fill="#813f17"/>
<rect x="354.90" y="304.96" width="11.50" height="3.66" fill="#f0f0f2"/>
<rect x="368.40" y="304.96" width="11.50" height="3.66" fill="#813f17"/>
<rect x="379.90" y="304.96" width="11.50" height="3.66" fill="#813f17"/>
<rect x="391.40" y="304.96" width="11.50" height="3.66" fill="#813f17"/>
<rect x="405.90" y="304.96" width="11.50" height="3.66" fill="#28a957"/>
<rect x="417.40" y="304.96" width="11.50" height="3.66" fill="#28a957"/>
<rect x="428.90" y="304.96" width="11.50" height="3.66" fill="#74c797"/>
<rect x="440.40" y="304.96" width="11.50" height="3.66" fill="#e09a78"/>
<rect x="451.90" y="304.96" width="11.50" height="3.66" fill="#74c797"/>
<rect x="488.40" y="304.96" width="11.50" height="3.66" fill="#813f17"/>
<rect x="499.90" y="304.96" width="11.50" height="3.66" fill="#813f17"/>
<rect x="320.40" y="308.62" width="11.50" height="3.66" fill="#74c797"/>
<rect x="343.40" y="308.62" width="11.50" height="3.66" fill="#74c797"/>
<rect x="354.90" y="308.62" width="11.50" height="3.66" fill="#f0f0f2"/>
<rect x="368.40" y="308.62" width="11.50" height="3.66" fill="#813f17"/>
<rect x="379.90" y="308.62" width="11.50" height="3.66" fill="#813f17"/>
<rect x="391.40" y="308.62" width="11.50" height="3.66" fill="#813f17"/>
<rect x="405.90" y="308.62" width="11.50" height="3.66" fill="#28a957"/>
<rect x="440.40" y="308.62" width="11.50" height="3.66" fill="#74c797"/>
<rect x="451.90" y="308.62" width="11.50" height="3.66" fill="#74c797"/>
<rect x="474.90" y="308.62" width="11.50" height="3.66" fill="#74c797"/>
<rect x="488.40" y="308.62" width="11.50" height="3.66" fill="#813f17"/>
<rect x="499.90" y="308.62" width="11.50" height="3.66" fill="#813f17"/>
<rect x="343.40" y="312.28" width="11.50" height="3.66" fill="#74c797"/>
<rect x="354.90" y="312.28" width="11.50" height="3.66" fill="#f0f0f2"/>
<rect x="368.40" y="312.28" width="11.50" height="3.66" fill="#e09a78"/>
<rect x="379.90" y="312.28" width="11.50" height="3.66" fill="#813f17"/>
<rect x="391.40" y="312.28" width="11.50" height="3.66" fill="#e09a78"/>
<rect x="405.90" y="312.28" width="11.50" height="3.66" fill="#28a957"/>
<rect x="417.40" y="312.28" width="11.50" height="3.66" fill="#28a957"/>
<rect x="428.90" y="312.28" width="11.50" height="3.66" fill="#74c797"/>
<rect x="451.90" y="312.28" width="11.50" height="3.66" fill="#74c797"/>
<rect x="488.40" y="312.28" width="11.50" height="3.66" fill="#e09a78"/>
<rect x="499.90" y="312.28" width="11.50" height="3.66" fill="#e09a78"/>
<rect x="320.40" y="315.94" width="11.50" height="3.66" fill="#74c797"/>
<rect x="343.40" y="315.94" width="11.50" height="3.66" fill="#74c797"/>
<rect x="354.90" y="315.94" width="11.50" height="3.66" fill="#f0f0f2"/>
<rect x="368.40" y="315.94" width="11.50" height="3.66" fill="#e09a78"/>
<rect x="379.90" y="315.94" width="11.50" height="3.66" fill="#813f17"/>
<rect x="405.90" y="315.94" width="11.50" height="3.66" fill="#74c797"/>
<rect x="440.40" y="315.94" width="11.50" height="3.66" fill="#74c797"/>
<rect x="451.90" y="315.94" width="11.50" height="3.66" fill="#74c797"/>
<rect x="488.40" y="315.94" width="11.50" height="3.66" fill="#e09a78"/>
<rect x="354.90" y="319.60" width="11.50" height="3.66" fill="#f0f0f2"/>
<rect x="405.90" y="319.60" width="11.50" height="3.66" fill="#74c797"/>
<rect x="451.90" y="319.60" width="11.50" height="3.66" fill="#74c797"/>
<rect x="354.90" y="323.26" width="11.50" height="3.66" fill="#f0f0f2"/>
<rect x="405.90" y="323.26" width="11.50" height="3.66" fill="#74c797"/>
<rect x="451.90" y="323.26" width="11.50" height="3.66" fill="#74c797"/>
<rect x="488.40" y="323.26" width="11.50" height="3.66" fill="#f9e2d3"/>
<rect x="354.90" y="326.91" width="11.50" height="3.66" fill="#28a957"/>
<rect x="368.40" y="326.91" width="11.50" height="3.66" fill="#813f17"/>
<rect x="379.90" y="326.91" width="11.50" height="3.66" fill="#813f17"/>
<rect x="391.40" y="326.91" width="11.50" height="3.66" fill="#813f17"/>
<rect x="405.90" y="326.91" width="11.50" height="3.66" fill="#74c797"/>
<rect x="428.90" y="326.91" width="11.50" height="3.66" fill="#74c797"/>
<rect x="440.40" y="326.91" width="11.50" height="3.66" fill="#e09a78"/>
<rect x="451.90" y="326.91" width="11.50" height="3.66" fill="#28a957"/>
<rect x="488.40" y="326.91" width="11.50" height="3.66" fill="#bb6d3e"/>
<rect x="343.40" y="330.57" width="11.50" height="3.66" fill="#74c797"/>
<rect x="354.90" y="330.57" width="11.50" height="3.66" fill="#74c797"/>
<rect x="368.40" y="330.57" width="11.50" height="3.66" fill="#813f17"/>
<rect x="379.90" y="330.57" width="11.50" height="3.66" fill="#813f17"/>
<rect x="405.90" y="330.57" width="11.50" height="3.66" fill="#28a957"/>
<rect x="428.90" y="330.57" width="11.50" height="3.66" fill="#74c797"/>
<rect x="440.40" y="330.57" width="11.50" height="3.66" fill="#74c797"/>
<rect x="451.90" y="330.57" width="11.50" height="3.66" fill="#28a957"/>
<rect x="488.40" y="330.57" width="11.50" height="3.66" fill="#813f17"/>
<rect x="343.40" y="334.23" width="11.50" height="3.66" fill="#74c797"/>
<rect x="354.90" y="334.23" width="11.50" height="3.66" fill="#74c797"/>
<rect x="368.40" y="334.23" width="11.50" height="3.66" fill="#813f17"/>
<rect x="379.90" y="334.23" width="11.50" height="3.66" fill="#813f17"/>
<rect x="405.90" y="334.23" width="11.50" height="3.66" fill="#74c797"/>
<rect x="440.40" y="334.23" width="11.50" height="3.66" fill="#74c797"/>
<rect x="451.90" y="334.23" width="11.50" height="3.66" fill="#74c797"/>
<rect x="488.40" y="334.23" width="11.50" height="3.66" fill="#813f17"/>
<rect x="274.40" y="337.89" width="11.50" height="3.66" fill="#74c797"/>
<rect x="285.90" y="337.89" width="11.50" height="3.66" fill="#e09a78"/>
<rect x="308.90" y="337.89" width="11.50" height="3.66" fill="#74c797"/>
<rect x="320.40" y="337.89" width="11.50" height="3.66" fill="#e09a78"/>
<rect x="343.40" y="337.89" width="11.50" height="3.66" fill="#74c797"/>
<rect x="354.90" y="337.89" width="11.50" height="3.66" fill="#f0f0f2"/>
<rect x="368.40" y="337.89" width="11.50" height="3.66" fill="#e09a78"/>
<rect x="379.90" y="337.89" width="11.50" height="3.66" fill="#813f17"/>
<rect x="405.90" y="337.89" width="11.50" height="3.66" fill="#28a957"/>
<rect x="428.90" y="337.89" width="11.50" height="3.66" fill="#74c797"/>
<rect x="440.40" y="337.89" width="11.50" height="3.66" fill="#74c797"/>
<rect x="451.90" y="337.89" width="11.50" height="3.66" fill="#74c797"/>
<rect x="488.40" y="337.89" width="11.50" height="3.66" fill="#e09a78"/>
<rect x="297.40" y="341.55" width="11.50" height="3.66" fill="#74c797"/>
<rect x="354.90" y="341.55" width="11.50" height="3.66" fill="#f0f0f2"/>
<rect x="368.40" y="341.55" width="11.50" height="3.66" fill="#813f17"/>
<rect x="379.90" y="341.55" width="11.50" height="3.66" fill="#813f17"/>
<rect x="391.40" y="341.55" width="11.50" height="3.66" fill="#813f17"/>
<rect x="405.90" y="341.55" width="11.50" height="3.66" fill="#28a957"/>
<rect x="451.90" y="341.55" width="11.50" height="3.66" fill="#74c797"/>
<rect x="488.40" y="341.55" width="11.50" height="3.66" fill="#813f17"/>
<rect x="499.90" y="341.55" width="11.50" height="3.66" fill="#813f17"/>
<rect x="354.90" y="345.21" width="11.50" height="3.66" fill="#f0f0f2"/>
<rect x="368.40" y="345.21" width="11.50" height="3.66" fill="#813f17"/>
<rect x="379.90" y="345.21" width="11.50" height="3.66" fill="#813f17"/>
<rect x="391.40" y="345.21" width="11.50" height="3.66" fill="#e09a78"/>
<rect x="405.90" y="345.21" width="11.50" height="3.66" fill="#74c797"/>
<rect x="451.90" y="345.21" width="11.50" height="3.66" fill="#74c797"/>
<rect x="274.40" y="348.87" width="11.50" height="3.66" fill="#74c797"/>
<rect x="320.40" y="348.87" width="11.50" height="3.66" fill="#74c797"/>
<rect x="354.90" y="348.87" width="11.50" height="3.66" fill="#f0f0f2"/>
<rect x="368.40" y="348.87" width="11.50" height="3.66" fill="#e09a78"/>
<rect x="379.90" y="348.87" width="11.50" height="3.66" fill="#813f17"/>
<rect x="405.90" y="348.87" width="11.50" height="3.66" fill="#74c797"/>
<rect x="451.90" y="348.87" width="11.50" height="3.66" fill="#74c797"/>
<rect x="488.40" y="348.87" width="11.50" height="3.66" fill="#bb6d3e"/>
<rect x="320.40" y="352.53" width="11.50" height="3.66" fill="#74c797"/>
<rect x="354.90" y="352.53" width="11.50" height="3.66" fill="#f0f0f2"/>
<rect x="368.40" y="352.53" width="11.50" height="3.66" fill="#813f17"/>
<rect x="379.90" y="352.53" width="11.50" height="3.66" fill="#813f17"/>
<rect x="391.40" y="352.53" width="11.50" height="3.66" fill="#813f17"/>
<rect x="405.90" y="352.53" width="11.50" height="3.66" fill="#28a957"/>
<rect x="417.40" y="352.53" width="11.50" height="3.66" fill="#74c797"/>
<rect x="428.90" y="352.53" width="11.50" height="3.66" fill="#74c797"/>
<rect x="440.40" y="352.53" width="11.50" height="3.66" fill="#e09a78"/>
<rect x="451.90" y="352.53" width="11.50" height="3.66" fill="#74c797"/>
<rect x="474.90" y="352.53" width="11.50" height="3.66" fill="#74c797"/>
<rect x="488.40" y="352.53" width="11.50" height="3.66" fill="#813f17"/>
<rect x="499.90" y="352.53" width="11.50" height="3.66" fill="#813f17"/>
<rect x="354.90" y="356.19" width="11.50" height="3.66" fill="#f0f0f2"/>
<rect x="368.40" y="356.19" width="11.50" height="3.66" fill="#e09a78"/>
<rect x="379.90" y="356.19" width="11.50" height="3.66" fill="#813f17"/>
<rect x="405.90" y="356.19" width="11.50" height="3.66" fill="#74c797"/>
<rect x="451.90" y="356.19" width="11.50" height="3.66" fill="#74c797"/>
<rect x="474.90" y="356.19" width="11.50" height="3.66" fill="#74c797"/>
<rect x="488.40" y="356.19" width="11.50" height="3.66" fill="#bb6d3e"/>
<rect x="354.90" y="359.85" width="11.50" height="3.66" fill="#74c797"/>
<rect x="368.40" y="359.85" width="11.50" height="3.66" fill="#bb6d3e"/>
<rect x="379.90" y="359.85" width="11.50" height="3.66" fill="#bb6d3e"/>
<rect x="405.90" y="359.85" width="11.50" height="3.66" fill="#74c797"/>
<rect x="440.40" y="359.85" width="11.50" height="3.66" fill="#74c797"/>
<rect x="451.90" y="359.85" width="11.50" height="3.66" fill="#74c797"/>
<rect x="474.90" y="359.85" width="11.50" height="3.66" fill="#74c797"/>
<rect x="488.40" y="359.85" width="11.50" height="3.66" fill="#813f17"/>
<rect x="274.40" y="363.50" width="11.50" height="3.66" fill="#74c797"/>
<rect x="308.90" y="363.50" width="11.50" height="3.66" fill="#e09a78"/>
<rect x="320.40" y="363.50" width="11.50" height="3.66" fill="#74c797"/>
<rect x="354.90" y="363.50" width="11.50" height="3.66" fill="#f0f0f2"/>
<rect x="368.40" y="363.50" width="11.50" height="3.66" fill="#f9e2d3"/>
<rect x="405.90" y="363.50" width="11.50" height="3.66" fill="#28a957"/>
<rect x="428.90" y="363.50" width="11.50" height="3.66" fill="#e09a78"/>
<rect x="440.40" y="363.50" width="11.50" height="3.66" fill="#e09a78"/>
<rect x="451.90" y="363.50" width="11.50" height="3.66" fill="#74c797"/>
<rect x="474.90" y="363.50" width="11.50" height="3.66" fill="#74c797"/>
<rect x="488.40" y="363.50" width="11.50" height="3.66" fill="#f0f0f2"/>
<rect x="274.40" y="367.16" width="11.50" height="3.66" fill="#74c797"/>
<rect x="297.40" y="367.16" width="11.50" height="3.66" fill="#74c797"/>
<rect x="308.90" y="367.16" width="11.50" height="3.66" fill="#e09a78"/>
<rect x="320.40" y="367.16" width="11.50" height="3.66" fill="#74c797"/>
<rect x="343.40" y="367.16" width="11.50" height="3.66" fill="#e09a78"/>
<rect x="354.90" y="367.16" width="11.50" height="3.66" fill="#74c797"/>
<rect x="368.40" y="367.16" width="11.50" height="3.66" fill="#e09a78"/>
<rect x="379.90" y="367.16" width="11.50" height="3.66" fill="#f9e2d3"/>
<rect x="405.90" y="367.16" width="11.50" height="3.66" fill="#74c797"/>
<rect x="428.90" y="367.16" width="11.50" height="3.66" fill="#e09a78"/>
<rect x="440.40" y="367.16" width="11.50" height="3.66" fill="#e09a78"/>
<rect x="451.90" y="367.16" width="11.50" height="3.66" fill="#74c797"/>
<rect x="474.90" y="367.16" width="11.50" height="3.66" fill="#74c797"/>
<rect x="488.40" y="367.16" width="11.50" height="3.66" fill="#f0f0f2"/>
<rect x="274.40" y="370.82" width="11.50" height="3.66" fill="#74c797"/>
<rect x="354.90" y="370.82" width="11.50" height="3.66" fill="#74c797"/>
<rect x="368.40" y="370.82" width="11.50" height="3.66" fill="#e09a78"/>
<rect x="379.90" y="370.82" width="11.50" height="3.66" fill="#f9e2d3"/>
<rect x="391.40" y="370.82" width="11.50" height="3.66" fill="#813f17"/>
<rect x="405.90" y="370.82" width="11.50" height="3.66" fill="#74c797"/>
<rect x="451.90" y="370.82" width="11.50" height="3.66" fill="#74c797"/>
<rect x="274.40" y="374.48" width="11.50" height="3.66" fill="#74c797"/>
<rect x="297.40" y="374.48" width="11.50" height="3.66" fill="#74c797"/>
<rect x="308.90" y="374.48" width="11.50" height="3.66" fill="#74c797"/>
<rect x="331.90" y="374.48" width="11.50" height="3.66" fill="#74c797"/>
<rect x="354.90" y="374.48" width="11.50" height="3.66" fill="#f0f0f2"/>
<rect x="368.40" y="374.48" width="11.50" height="3.66" fill="#bb6d3e"/>
<rect x="379.90" y="374.48" width="11.50" height="3.66" fill="#813f17"/>
<rect x="391.40" y="374.48" width="11.50" height="3.66" fill="#e09a78"/>
<rect x="405.90" y="374.48" width="11.50" height="3.66" fill="#28a957"/>
<rect x="428.90" y="374.48" width="11.50" height="3.66" fill="#74c797"/>
<rect x="451.90" y="374.48" width="11.50" height="3.66" fill="#74c797"/>
<rect x="488.40" y="374.48" width="11.50" height="3.66" fill="#813f17"/>
<rect x="274.40" y="378.14" width="11.50" height="3.66" fill="#74c797"/>
<rect x="320.40" y="378.14" width="11.50" height="3.66" fill="#74c797"/>
<rect x="343.40" y="378.14" width="11.50" height="3.66" fill="#74c797"/>
<rect x="354.90" y="378.14" width="11.50" height="3.66" fill="#f0f0f2"/>
<rect x="368.40" y="378.14" width="11.50" height="3.66" fill="#bb6d3e"/>
<rect x="379.90" y="378.14" width="11.50" height="3.66" fill="#813f17"/>
<rect x="405.90" y="378.14" width="11.50" height="3.66" fill="#74c797"/>
<rect x="440.40" y="378.14" width="11.50" height="3.66" fill="#74c797"/>
<rect x="451.90" y="378.14" width="11.50" height="3.66" fill="#74c797"/>
<rect x="343.40" y="381.80" width="11.50" height="3.66" fill="#74c797"/>
<rect x="354.90" y="381.80" width="11.50" height="3.66" fill="#f0f0f2"/>
<rect x="368.40" y="381.80" width="11.50" height="3.66" fill="#813f17"/>
<rect x="379.90" y="381.80" width="11.50" height="3.66" fill="#813f17"/>
<rect x="405.90" y="381.80" width="11.50" height="3.66" fill="#74c797"/>
<rect x="440.40" y="381.80" width="11.50" height="3.66" fill="#74c797"/>
<rect x="451.90" y="381.80" width="11.50" height="3.66" fill="#74c797"/>
<rect x="474.90" y="381.80" width="11.50" height="3.66" fill="#74c797"/>
<rect x="488.40" y="381.80" width="11.50" height="3.66" fill="#e09a78"/>
<rect x="274.40" y="385.46" width="11.50" height="3.66" fill="#74c797"/>
<rect x="297.40" y="385.46" width="11.50" height="3.66" fill="#74c797"/>
<rect x="320.40" y="385.46" width="11.50" height="3.66" fill="#74c797"/>
<rect x="343.40" y="385.46" width="11.50" height="3.66" fill="#74c797"/>
<rect x="354.90" y="385.46" width="11.50" height="3.66" fill="#28a957"/>
<rect x="368.40" y="385.46" width="11.50" height="3.66" fill="#813f17"/>
<rect x="379.90" y="385.46" width="11.50" height="3.66" fill="#813f17"/>
<rect x="391.40" y="385.46" width="11.50" height="3.66" fill="#e09a78"/>
<rect x="405.90" y="385.46" width="11.50" height="3.66" fill="#28a957"/>
<rect x="428.90" y="385.46" width="11.50" height="3.66" fill="#74c797"/>
<rect x="440.40" y="385.46" width="11.50" height="3.66" fill="#74c797"/>
<rect x="451.90" y="385.46" width="11.50" height="3.66" fill="#74c797"/>
<rect x="474.90" y="385.46" width="11.50" height="3.66" fill="#74c797"/>
<rect x="488.40" y="385.46" width="11.50" height="3.66" fill="#813f17"/>
<rect x="499.90" y="385.46" width="11.50" height="3.66" fill="#e09a78"/>
<rect x="274.40" y="389.12" width="11.50" height="3.66" fill="#74c797"/>
<rect x="285.90" y="389.12" width="11.50" height="3.66" fill="#e09a78"/>
<rect x="297.40" y="389.12" width="11.50" height="3.66" fill="#74c797"/>
<rect x="308.90" y="389.12" width="11.50" height="3.66" fill="#e09a78"/>
<rect x="320.40" y="389.12" width="11.50" height="3.66" fill="#74c797"/>
<rect x="354.90" y="389.12" width="11.50" height="3.66" fill="#f0f0f2"/>
<rect x="368.40" y="389.12" width="11.50" height="3.66" fill="#813f17"/>
<rect x="379.90" y="389.12" width="11.50" height="3.66" fill="#813f17"/>
<rect x="391.40" y="389.12" width="11.50" height="3.66" fill="#813f17"/>
<rect x="405.90" y="389.12" width="11.50" height="3.66" fill="#74c797"/>
<rect x="417.40" y="389.12" width="11.50" height="3.66" fill="#74c797"/>
<rect x="428.90" y="389.12" width="11.50" height="3.66" fill="#74c797"/>
<rect x="440.40" y="389.12" width="11.50" height="3.66" fill="#e09a78"/>
<rect x="451.90" y="389.12" width="11.50" height="3.66" fill="#74c797"/>
<rect x="488.40" y="389.12" width="11.50" height="3.66" fill="#813f17"/>
<rect x="499.90" y="389.12" width="11.50" height="3.66" fill="#813f17"/>
<rect x="274.40" y="392.78" width="11.50" height="3.66" fill="#74c797"/>
<rect x="297.40" y="392.78" width="11.50" height="3.66" fill="#74c797"/>
<rect x="308.90" y="392.78" width="11.50" height="3.66" fill="#74c797"/>
<rect x="320.40" y="392.78" width="11.50" height="3.66" fill="#74c797"/>
<rect x="343.40" y="392.78" width="11.50" height="3.66" fill="#74c797"/>
<rect x="354.90" y="392.78" width="11.50" height="3.66" fill="#f0f0f2"/>
<rect x="368.40" y="392.78" width="11.50" height="3.66" fill="#813f17"/>
<rect x="379.90" y="392.78" width="11.50" height="3.66" fill="#813f17"/>
<rect x="405.90" y="392.78" width="11.50" height="3.66" fill="#74c797"/>
<rect x="417.40" y="392.78" width="11.50" height="3.66" fill="#28a957"/>
<rect x="428.90" y="392.78" width="11.50" height="3.66" fill="#74c797"/>
<rect x="440.40" y="392.78" width="11.50" height="3.66" fill="#74c797"/>
<rect x="451.90" y="392.78" width="11.50" height="3.66" fill="#28a957"/>
<rect x="474.90" y="392.78" width="11.50" height="3.66" fill="#74c797"/>
<rect x="488.40" y="392.78" width="11.50" height="3.66" fill="#813f17"/>
<rect x="274.40" y="396.44" width="11.50" height="3.66" fill="#74c797"/>
<rect x="308.90" y="396.44" width="11.50" height="3.66" fill="#74c797"/>
<rect x="320.40" y="396.44" width="11.50" height="3.66" fill="#74c797"/>
<rect x="343.40" y="396.44" width="11.50" height="3.66" fill="#74c797"/>
<rect x="354.90" y="396.44" width="11.50" height="3.66" fill="#28a957"/>
<rect x="368.40" y="396.44" width="11.50" height="3.66" fill="#e09a78"/>
<rect x="379.90" y="396.44" width="11.50" height="3.66" fill="#bb6d3e"/>
<rect x="405.90" y="396.44" width="11.50" height="3.66" fill="#74c797"/>
<rect x="417.40" y="396.44" width="11.50" height="3.66" fill="#74c797"/>
<rect x="440.40" y="396.44" width="11.50" height="3.66" fill="#74c797"/>
<rect x="451.90" y="396.44" width="11.50" height="3.66" fill="#74c797"/>
<rect x="474.90" y="396.44" width="11.50" height="3.66" fill="#74c797"/>
<rect x="488.40" y="396.44" width="11.50" height="3.66" fill="#f9e2d3"/>
<rect x="274.40" y="400.09" width="11.50" height="3.66" fill="#28a957"/>
<rect x="297.40" y="400.09" width="11.50" height="3.66" fill="#74c797"/>
<rect x="308.90" y="400.09" width="11.50" height="3.66" fill="#e09a78"/>
<rect x="320.40" y="400.09" width="11.50" height="3.66" fill="#74c797"/>
<rect x="354.90" y="400.09" width="11.50" height="3.66" fill="#74c797"/>
<rect x="368.40" y="400.09" width="11.50" height="3.66" fill="#813f17"/>
<rect x="379.90" y="400.09" width="11.50" height="3.66" fill="#813f17"/>
<rect x="391.40" y="400.09" width="11.50" height="3.66" fill="#813f17"/>
<rect x="405.90" y="400.09" width="11.50" height="3.66" fill="#28a957"/>
<rect x="417.40" y="400.09" width="11.50" height="3.66" fill="#74c797"/>
<rect x="428.90" y="400.09" width="11.50" height="3.66" fill="#74c797"/>
<rect x="440.40" y="400.09" width="11.50" height="3.66" fill="#e09a78"/>
<rect x="451.90" y="400.09" width="11.50" height="3.66" fill="#74c797"/>
<rect x="488.40" y="400.09" width="11.50" height="3.66" fill="#813f17"/>
<rect x="499.90" y="400.09" width="11.50" height="3.66" fill="#813f17"/>
<rect x="274.40" y="403.75" width="11.50" height="3.66" fill="#74c797"/>
<rect x="297.40" y="403.75" width="11.50" height="3.66" fill="#e09a78"/>
<rect x="308.90" y="403.75" width="11.50" height="3.66" fill="#74c797"/>
<rect x="320.40" y="403.75" width="11.50" height="3.66" fill="#74c797"/>
<rect x="331.90" y="403.75" width="11.50" height="3.66" fill="#74c797"/>
<rect x="354.90" y="403.75" width="11.50" height="3.66" fill="#28a957"/>
<rect x="368.40" y="403.75" width="11.50" height="3.66" fill="#813f17"/>
<rect x="379.90" y="403.75" width="11.50" height="3.66" fill="#813f17"/>
<rect x="391.40" y="403.75" width="11.50" height="3.66" fill="#813f17"/>
<rect x="405.90" y="403.75" width="11.50" height="3.66" fill="#74c797"/>
<rect x="417.40" y="403.75" width="11.50" height="3.66" fill="#e09a78"/>
<rect x="440.40" y="403.75" width="11.50" height="3.66" fill="#74c797"/>
<rect x="451.90" y="403.75" width="11.50" height="3.66" fill="#74c797"/>
<rect x="474.90" y="403.75" width="11.50" height="3.66" fill="#74c797"/>
<rect x="488.40" y="403.75" width="11.50" height="3.66" fill="#813f17"/>
<rect x="499.90" y="403.75" width="11.50" height="3.66" fill="#813f17"/>
<rect x="274.40" y="407.41" width="11.50" height="3.66" fill="#74c797"/>
<rect x="320.40" y="407.41" width="11.50" height="3.66" fill="#74c797"/>
<rect x="343.40" y="407.41" width="11.50" height="3.66" fill="#74c797"/>
<rect x="354.90" y="407.41" width="11.50" height="3.66" fill="#f0f0f2"/>
<rect x="368.40" y="407.41" width="11.50" height="3.66" fill="#813f17"/>
<rect x="379.90" y="407.41" width="11.50" height="3.66" fill="#813f17"/>
<rect x="391.40" y="407.41" width="11.50" height="3.66" fill="#813f17"/>
<rect x="405.90" y="407.41" width="11.50" height="3.66" fill="#74c797"/>
<rect x="428.90" y="407.41" width="11.50" height="3.66" fill="#74c797"/>
<rect x="440.40" y="407.41" width="11.50" height="3.66" fill="#74c797"/>
<rect x="451.90" y="407.41" width="11.50" height="3.66" fill="#74c797"/>
<rect x="488.40" y="407.41" width="11.50" height="3.66" fill="#e09a78"/>
<rect x="499.90" y="407.41" width="11.50" height="3.66" fill="#e09a78"/>
<rect x="274.40" y="411.07" width="11.50" height="3.66" fill="#74c797"/>
<rect x="297.40" y="411.07" width="11.50" height="3.66" fill="#74c797"/>
<rect x="308.90" y="411.07" width="11.50" height="3.66" fill="#74c797"/>
<rect x="320.40" y="411.07" width="11.50" height="3.66" fill="#74c797"/>
<rect x="343.40" y="411.07" width="11.50" height="3.66" fill="#74c797"/>
<rect x="354.90" y="411.07" width="11.50" height="3.66" fill="#74c797"/>
<rect x="368.40" y="411.07" width="11.50" height="3.66" fill="#813f17"/>
<rect x="379.90" y="411.07" width="11.50" height="3.66" fill="#813f17"/>
<rect x="405.90" y="411.07" width="11.50" height="3.66" fill="#74c797"/>
<rect x="428.90" y="411.07" width="11.50" height="3.66" fill="#74c797"/>
<rect x="440.40" y="411.07" width="11.50" height="3.66" fill="#74c797"/>
<rect x="451.90" y="411.07" width="11.50" height="3.66" fill="#74c797"/>
<rect x="488.40" y="411.07" width="11.50" height="3.66" fill="#813f17"/>
<rect x="274.40" y="414.73" width="11.50" height="3.66" fill="#74c797"/>
<rect x="297.40" y="414.73" width="11.50" height="3.66" fill="#74c797"/>
<rect x="308.90" y="414.73" width="11.50" height="3.66" fill="#74c797"/>
<rect x="320.40" y="414.73" width="11.50" height="3.66" fill="#74c797"/>
<rect x="354.90" y="414.73" width="11.50" height="3.66" fill="#f0f0f2"/>
<rect x="368.40" y="414.73" width="11.50" height="3.66" fill="#e09a78"/>
<rect x="379.90" y="414.73" width="11.50" height="3.66" fill="#813f17"/>
<rect x="405.90" y="414.73" width="11.50" height="3.66" fill="#74c797"/>
<rect x="440.40" y="414.73" width="11.50" height="3.66" fill="#74c797"/>
<rect x="451.90" y="414.73" width="11.50" height="3.66" fill="#74c797"/>
<rect x="488.40" y="414.73" width="11.50" height="3.66" fill="#f9e2d3"/>
<rect x="274.40" y="418.39" width="11.50" height="3.66" fill="#74c797"/>
<rect x="285.90" y="418.39" width="11.50" height="3.66" fill="#e09a78"/>
<rect x="354.90" y="418.39" width="11.50" height="3.66" fill="#74c797"/>
<rect x="368.40" y="418.39" width="11.50" height="3.66" fill="#813f17"/>
<rect x="379.90" y="418.39" width="11.50" height="3.66" fill="#813f17"/>
<rect x="391.40" y="418.39" width="11.50" height="3.66" fill="#e09a78"/>
<rect x="405.90" y="418.39" width="11.50" height="3.66" fill="#74c797"/>
<rect x="417.40" y="418.39" width="11.50" height="3.66" fill="#74c797"/>
<rect x="428.90" y="418.39" width="11.50" height="3.66" fill="#74c797"/>
<rect x="451.90" y="418.39" width="11.50" height="3.66" fill="#74c797"/>
<rect x="488.40" y="418.39" width="11.50" height="3.66" fill="#bb6d3e"/>
<rect x="274.40" y="422.05" width="11.50" height="3.66" fill="#74c797"/>
<rect x="297.40" y="422.05" width="11.50" height="3.66" fill="#74c797"/>
<rect x="320.40" y="422.05" width="11.50" height="3.66" fill="#74c797"/>
<rect x="343.40" y="422.05" width="11.50" height="3.66" fill="#74c797"/>
<rect x="354.90" y="422.05" width="11.50" height="3.66" fill="#28a957"/>
<rect x="368.40" y="422.05" width="11.50" height="3.66" fill="#813f17"/>
<rect x="379.90" y="422.05" width="11.50" height="3.66" fill="#813f17"/>
<rect x="391.40" y="422.05" width="11.50" height="3.66" fill="#813f17"/>
<rect x="405.90" y="422.05" width="11.50" height="3.66" fill="#74c797"/>
<rect x="417.40" y="422.05" width="11.50" height="3.66" fill="#74c797"/>
<rect x="428.90" y="422.05" width="11.50" height="3.66" fill="#74c797"/>
<rect x="451.90" y="422.05" width="11.50" height="3.66" fill="#74c797"/>
<rect x="488.40" y="422.05" width="11.50" height="3.66" fill="#813f17"/>
<rect x="499.90" y="422.05" width="11.50" height="3.66" fill="#813f17"/>
<rect x="274.40" y="425.71" width="11.50" height="3.66" fill="#74c797"/>
<rect x="297.40" y="425.71" width="11.50" height="3.66" fill="#74c797"/>
<rect x="308.90" y="425.71" width="11.50" height="3.66" fill="#74c797"/>
<rect x="320.40" y="425.71" width="11.50" height="3.66" fill="#74c797"/>
<rect x="331.90" y="425.71" width="11.50" height="3.66" fill="#74c797"/>
<rect x="343.40" y="425.71" width="11.50" height="3.66" fill="#74c797"/>
<rect x="354.90" y="425.71" width="11.50" height="3.66" fill="#74c797"/>
<rect x="368.40" y="425.71" width="11.50" height="3.66" fill="#813f17"/>
<rect x="379.90" y="425.71" width="11.50" height="3.66" fill="#813f17"/>
<rect x="391.40" y="425.71" width="11.50" height="3.66" fill="#813f17"/>
<rect x="405.90" y="425.71" width="11.50" height="3.66" fill="#28a957"/>
<rect x="417.40" y="425.71" width="11.50" height="3.66" fill="#28a957"/>
<rect x="428.90" y="425.71" width="11.50" height="3.66" fill="#74c797"/>
<rect x="440.40" y="425.71" width="11.50" height="3.66" fill="#74c797"/>
<rect x="451.90" y="425.71" width="11.50" height="3.66" fill="#74c797"/>
<rect x="488.40" y="425.71" width="11.50" height="3.66" fill="#813f17"/>
<rect x="499.90" y="425.71" width="11.50" height="3.66" fill="#813f17"/>
<rect x="274.40" y="429.37" width="11.50" height="3.66" fill="#28a957"/>
<rect x="297.40" y="429.37" width="11.50" height="3.66" fill="#74c797"/>
<rect x="308.90" y="429.37" width="11.50" height="3.66" fill="#74c797"/>
<rect x="320.40" y="429.37" width="11.50" height="3.66" fill="#74c797"/>
<rect x="354.90" y="429.37" width="11.50" height="3.66" fill="#74c797"/>
<rect x="368.40" y="429.37" width="11.50" height="3.66" fill="#813f17"/>
<rect x="379.90" y="429.37" width="11.50" height="3.66" fill="#813f17"/>
<rect x="391.40" y="429.37" width="11.50" height="3.66" fill="#813f17"/>
<rect x="405.90" y="429.37" width="11.50" height="3.66" fill="#74c797"/>
<rect x="440.40" y="429.37" width="11.50" height="3.66" fill="#74c797"/>
<rect x="451.90" y="429.37" width="11.50" height="3.66" fill="#74c797"/>
<rect x="488.40" y="429.37" width="11.50" height="3.66" fill="#813f17"/>
<rect x="499.90" y="429.37" width="11.50" height="3.66" fill="#813f17"/>
<line x1="274.40" y1="198.85" x2="511.40" y2="198.85" stroke="#a9b0d4" stroke-width="1.1" shape-rendering="auto"/>
<line x1="273.45" y1="217.14" x2="511.40" y2="217.14" stroke="#4f64a0" stroke-width="1.1" stroke-dasharray="3.7 2.55" shape-rendering="auto"/>
<line x1="274.40" y1="235.44" x2="511.40" y2="235.44" stroke="#4d63aa" stroke-width="1.1" shape-rendering="auto"/>
<line x1="273.45" y1="253.73" x2="511.40" y2="253.73" stroke="#4f64a0" stroke-width="1.1" stroke-dasharray="3.7 2.55" shape-rendering="auto"/>
<line x1="274.40" y1="272.03" x2="511.40" y2="272.03" stroke="#4d63aa" stroke-width="1.1" shape-rendering="auto"/>
<line x1="273.45" y1="290.32" x2="511.40" y2="290.32" stroke="#4f64a0" stroke-width="1.1" stroke-dasharray="3.7 2.55" shape-rendering="auto"/>
<line x1="274.40" y1="308.62" x2="511.40" y2="308.62" stroke="#4d63aa" stroke-width="1.1" shape-rendering="auto"/>
<line x1="273.45" y1="326.91" x2="511.40" y2="326.91" stroke="#4f64a0" stroke-width="1.1" stroke-dasharray="3.7 2.55" shape-rendering="auto"/>
<line x1="274.40" y1="345.21" x2="511.40" y2="345.21" stroke="#4d63aa" stroke-width="1.1" shape-rendering="auto"/>
<line x1="273.45" y1="363.50" x2="511.40" y2="363.50" stroke="#4f64a0" stroke-width="1.1" stroke-dasharray="3.7 2.55" shape-rendering="auto"/>
<line x1="274.40" y1="381.80" x2="511.40" y2="381.80" stroke="#4d63aa" stroke-width="1.1" shape-rendering="auto"/>
<line x1="273.45" y1="400.09" x2="511.40" y2="400.09" stroke="#4f64a0" stroke-width="1.1" stroke-dasharray="3.7 2.55" shape-rendering="auto"/>
<line x1="274.40" y1="418.39" x2="511.40" y2="418.39" stroke="#4d63aa" stroke-width="1.1" shape-rendering="auto"/>
<line x1="273.70" y1="195.40" x2="273.70" y2="434.20" stroke="#111" stroke-width="1.3"/>
<line x1="273.10" y1="433.60" x2="514.40" y2="433.60" stroke="#111" stroke-width="1.3"/>
<text x="280.15" y="192.20" class="hd">h1</text>
<text x="291.65" y="192.20" class="hd">2</text>
<text x="303.15" y="192.20" class="hd">3</text>
<text x="314.65" y="192.20" class="hd">4</text>
<text x="326.15" y="192.20" class="hd">5</text>
<text x="337.65" y="192.20" class="hd">6</text>
<text x="349.15" y="192.20" class="hd">7</text>
<text x="360.65" y="192.20" class="hd">8</text>
<text x="374.15" y="192.20" class="hd">9</text>
<text x="385.65" y="192.20" class="hd">9'</text>
<text x="397.15" y="192.20" class="hd">10</text>
<text x="411.65" y="192.20" class="hd">m1</text>
<text x="423.15" y="192.20" class="hd">2</text>
<text x="434.65" y="192.20" class="hd">3</text>
<text x="446.15" y="192.20" class="hd">4</text>
<text x="457.65" y="192.20" class="hd">5</text>
<text x="469.15" y="192.20" class="hd">6</text>
<text x="480.65" y="192.20" class="hd">7</text>
<text x="494.15" y="192.20" class="hd">8</text>
<text x="505.65" y="192.20" class="hd">9</text>
<rect x="409.15" y="442.30" width="1.5" height="9.50" fill="#5a6a88" shape-rendering="auto"/><path d="M407.10 443.00 L409.90 437.30 L412.70 443.00 Z" fill="#243a5e" shape-rendering="auto"/>
<rect x="454.75" y="442.10" width="1.5" height="9.70" fill="#5a6a88" shape-rendering="auto"/><path d="M452.70 442.80 L455.50 437.10 L458.30 442.80 Z" fill="#243a5e" shape-rendering="auto"/>
<rect x="401.60" y="490.45" width="1.80" height="92.16" fill="#c9d4ee"/>
<rect x="352.50" y="490.45" width="11.50" height="3.84" fill="#e8e8eb"/>
<rect x="366.00" y="490.45" width="11.50" height="3.84" fill="#e09a78"/>
<rect x="377.50" y="490.45" width="11.50" height="3.84" fill="#813f17"/>
<rect x="389.00" y="490.45" width="11.50" height="3.84" fill="#813f17"/>
<rect x="403.50" y="490.45" width="11.50" height="3.84" fill="#28a957"/>
<rect x="461.00" y="490.45" width="11.50" height="3.84" fill="#74c797"/>
<rect x="486.00" y="490.45" width="11.50" height="3.84" fill="#f9e2d3"/>
<rect x="352.50" y="494.29" width="11.50" height="3.84" fill="#e8e8eb"/>
<rect x="366.00" y="494.29" width="11.50" height="3.84" fill="#e09a78"/>
<rect x="377.50" y="494.29" width="11.50" height="3.84" fill="#f9e2d3"/>
<rect x="403.50" y="494.29" width="11.50" height="3.84" fill="#74c797"/>
<rect x="415.00" y="494.29" width="11.50" height="3.84" fill="#bb6d3e"/>
<rect x="426.50" y="494.29" width="11.50" height="3.84" fill="#e09a78"/>
<rect x="461.00" y="494.29" width="11.50" height="3.84" fill="#74c797"/>
<rect x="486.00" y="494.29" width="11.50" height="3.84" fill="#e09a78"/>
<rect x="497.50" y="494.29" width="11.50" height="3.84" fill="#bb6d3e"/>
<rect x="272.00" y="498.13" width="11.50" height="3.84" fill="#74c797"/>
<rect x="329.50" y="498.13" width="11.50" height="3.84" fill="#74c797"/>
<rect x="352.50" y="498.13" width="11.50" height="3.84" fill="#74c797"/>
<rect x="366.00" y="498.13" width="11.50" height="3.84" fill="#f9e2d3"/>
<rect x="377.50" y="498.13" width="11.50" height="3.84" fill="#f9e2d3"/>
<rect x="403.50" y="498.13" width="11.50" height="3.84" fill="#28a957"/>
<rect x="415.00" y="498.13" width="11.50" height="3.84" fill="#28a957"/>
<rect x="461.00" y="498.13" width="11.50" height="3.84" fill="#74c797"/>
<rect x="352.50" y="501.97" width="11.50" height="3.84" fill="#e8e8eb"/>
<rect x="366.00" y="501.97" width="11.50" height="3.84" fill="#813f17"/>
<rect x="377.50" y="501.97" width="11.50" height="3.84" fill="#813f17"/>
<rect x="389.00" y="501.97" width="11.50" height="3.84" fill="#e09a78"/>
<rect x="403.50" y="501.97" width="11.50" height="3.84" fill="#74c797"/>
<rect x="415.00" y="501.97" width="11.50" height="3.84" fill="#74c797"/>
<rect x="426.50" y="501.97" width="11.50" height="3.84" fill="#74c797"/>
<rect x="461.00" y="501.97" width="11.50" height="3.84" fill="#74c797"/>
<rect x="486.00" y="501.97" width="11.50" height="3.84" fill="#813f17"/>
<rect x="497.50" y="501.97" width="11.50" height="3.84" fill="#e09a78"/>
<rect x="352.50" y="505.81" width="11.50" height="3.84" fill="#74c797"/>
<rect x="366.00" y="505.81" width="11.50" height="3.84" fill="#813f17"/>
<rect x="377.50" y="505.81" width="11.50" height="3.84" fill="#813f17"/>
<rect x="389.00" y="505.81" width="11.50" height="3.84" fill="#bb6d3e"/>
<rect x="403.50" y="505.81" width="11.50" height="3.84" fill="#74c797"/>
<rect x="461.00" y="505.81" width="11.50" height="3.84" fill="#74c797"/>
<rect x="486.00" y="505.81" width="11.50" height="3.84" fill="#e09a78"/>
<rect x="352.50" y="509.65" width="11.50" height="3.84" fill="#e8e8eb"/>
<rect x="366.00" y="509.65" width="11.50" height="3.84" fill="#813f17"/>
<rect x="377.50" y="509.65" width="11.50" height="3.84" fill="#813f17"/>
<rect x="389.00" y="509.65" width="11.50" height="3.84" fill="#813f17"/>
<rect x="403.50" y="509.65" width="11.50" height="3.84" fill="#74c797"/>
<rect x="415.00" y="509.65" width="11.50" height="3.84" fill="#28a957"/>
<rect x="426.50" y="509.65" width="11.50" height="3.84" fill="#74c797"/>
<rect x="461.00" y="509.65" width="11.50" height="3.84" fill="#74c797"/>
<rect x="486.00" y="509.65" width="11.50" height="3.84" fill="#813f17"/>
<rect x="497.50" y="509.65" width="11.50" height="3.84" fill="#813f17"/>
<rect x="352.50" y="513.49" width="11.50" height="3.84" fill="#74c797"/>
<rect x="366.00" y="513.49" width="11.50" height="3.84" fill="#e09a78"/>
<rect x="377.50" y="513.49" width="11.50" height="3.84" fill="#e09a78"/>
<rect x="403.50" y="513.49" width="11.50" height="3.84" fill="#28a957"/>
<rect x="438.00" y="513.49" width="11.50" height="3.84" fill="#74c797"/>
<rect x="461.00" y="513.49" width="11.50" height="3.84" fill="#74c797"/>
<rect x="486.00" y="513.49" width="11.50" height="3.84" fill="#e09a78"/>
<rect x="352.50" y="517.33" width="11.50" height="3.84" fill="#e8e8eb"/>
<rect x="366.00" y="517.33" width="11.50" height="3.84" fill="#813f17"/>
<rect x="377.50" y="517.33" width="11.50" height="3.84" fill="#813f17"/>
<rect x="389.00" y="517.33" width="11.50" height="3.84" fill="#bb6d3e"/>
<rect x="403.50" y="517.33" width="11.50" height="3.84" fill="#74c797"/>
<rect x="415.00" y="517.33" width="11.50" height="3.84" fill="#74c797"/>
<rect x="426.50" y="517.33" width="11.50" height="3.84" fill="#74c797"/>
<rect x="461.00" y="517.33" width="11.50" height="3.84" fill="#74c797"/>
<rect x="486.00" y="517.33" width="11.50" height="3.84" fill="#bb6d3e"/>
<rect x="497.50" y="517.33" width="11.50" height="3.84" fill="#e09a78"/>
<rect x="272.00" y="521.17" width="11.50" height="3.84" fill="#74c797"/>
<rect x="329.50" y="521.17" width="11.50" height="3.84" fill="#74c797"/>
<rect x="352.50" y="521.17" width="11.50" height="3.84" fill="#e8e8eb"/>
<rect x="366.00" y="521.17" width="11.50" height="3.84" fill="#f9e2d3"/>
<rect x="377.50" y="521.17" width="11.50" height="3.84" fill="#f9e2d3"/>
<rect x="389.00" y="521.17" width="11.50" height="3.84" fill="#e09a78"/>
<rect x="403.50" y="521.17" width="11.50" height="3.84" fill="#74c797"/>
<rect x="415.00" y="521.17" width="11.50" height="3.84" fill="#28a957"/>
<rect x="426.50" y="521.17" width="11.50" height="3.84" fill="#74c797"/>
<rect x="461.00" y="521.17" width="11.50" height="3.84" fill="#74c797"/>
<rect x="486.00" y="521.17" width="11.50" height="3.84" fill="#813f17"/>
<rect x="497.50" y="521.17" width="11.50" height="3.84" fill="#813f17"/>
<rect x="272.00" y="525.01" width="11.50" height="3.84" fill="#74c797"/>
<rect x="329.50" y="525.01" width="11.50" height="3.84" fill="#74c797"/>
<rect x="352.50" y="525.01" width="11.50" height="3.84" fill="#e8e8eb"/>
<rect x="366.00" y="525.01" width="11.50" height="3.84" fill="#813f17"/>
<rect x="377.50" y="525.01" width="11.50" height="3.84" fill="#813f17"/>
<rect x="389.00" y="525.01" width="11.50" height="3.84" fill="#813f17"/>
<rect x="403.50" y="525.01" width="11.50" height="3.84" fill="#28a957"/>
<rect x="461.00" y="525.01" width="11.50" height="3.84" fill="#74c797"/>
<rect x="486.00" y="525.01" width="11.50" height="3.84" fill="#813f17"/>
<rect x="497.50" y="525.01" width="11.50" height="3.84" fill="#813f17"/>
<rect x="272.00" y="528.85" width="11.50" height="3.84" fill="#74c797"/>
<rect x="329.50" y="528.85" width="11.50" height="3.84" fill="#74c797"/>
<rect x="352.50" y="528.85" width="11.50" height="3.84" fill="#e8e8eb"/>
<rect x="366.00" y="528.85" width="11.50" height="3.84" fill="#e09a78"/>
<rect x="377.50" y="528.85" width="11.50" height="3.84" fill="#f9e2d3"/>
<rect x="389.00" y="528.85" width="11.50" height="3.84" fill="#813f17"/>
<rect x="403.50" y="528.85" width="11.50" height="3.84" fill="#74c797"/>
<rect x="415.00" y="528.85" width="11.50" height="3.84" fill="#28a957"/>
<rect x="426.50" y="528.85" width="11.50" height="3.84" fill="#74c797"/>
<rect x="461.00" y="528.85" width="11.50" height="3.84" fill="#74c797"/>
<rect x="272.00" y="532.69" width="11.50" height="3.84" fill="#28a957"/>
<rect x="283.50" y="532.69" width="11.50" height="3.84" fill="#e09a78"/>
<rect x="329.50" y="532.69" width="11.50" height="3.84" fill="#74c797"/>
<rect x="352.50" y="532.69" width="11.50" height="3.84" fill="#e8e8eb"/>
<rect x="366.00" y="532.69" width="11.50" height="3.84" fill="#e09a78"/>
<rect x="377.50" y="532.69" width="11.50" height="3.84" fill="#f9e2d3"/>
<rect x="389.00" y="532.69" width="11.50" height="3.84" fill="#813f17"/>
<rect x="403.50" y="532.69" width="11.50" height="3.84" fill="#74c797"/>
<rect x="415.00" y="532.69" width="11.50" height="3.84" fill="#74c797"/>
<rect x="461.00" y="532.69" width="11.50" height="3.84" fill="#74c797"/>
<rect x="486.00" y="532.69" width="11.50" height="3.84" fill="#813f17"/>
<rect x="497.50" y="532.69" width="11.50" height="3.84" fill="#813f17"/>
<rect x="272.00" y="536.53" width="11.50" height="3.84" fill="#74c797"/>
<rect x="329.50" y="536.53" width="11.50" height="3.84" fill="#74c797"/>
<rect x="352.50" y="536.53" width="11.50" height="3.84" fill="#e8e8eb"/>
<rect x="366.00" y="536.53" width="11.50" height="3.84" fill="#f9e2d3"/>
<rect x="377.50" y="536.53" width="11.50" height="3.84" fill="#f9e2d3"/>
<rect x="403.50" y="536.53" width="11.50" height="3.84" fill="#74c797"/>
<rect x="415.00" y="536.53" width="11.50" height="3.84" fill="#28a957"/>
<rect x="461.00" y="536.53" width="11.50" height="3.84" fill="#74c797"/>
<rect x="272.00" y="540.37" width="11.50" height="3.84" fill="#28a957"/>
<rect x="329.50" y="540.37" width="11.50" height="3.84" fill="#74c797"/>
<rect x="352.50" y="540.37" width="11.50" height="3.84" fill="#e8e8eb"/>
<rect x="366.00" y="540.37" width="11.50" height="3.84" fill="#bb6d3e"/>
<rect x="377.50" y="540.37" width="11.50" height="3.84" fill="#bb6d3e"/>
<rect x="403.50" y="540.37" width="11.50" height="3.84" fill="#28a957"/>
<rect x="415.00" y="540.37" width="11.50" height="3.84" fill="#28a957"/>
<rect x="426.50" y="540.37" width="11.50" height="3.84" fill="#74c797"/>
<rect x="461.00" y="540.37" width="11.50" height="3.84" fill="#74c797"/>
<rect x="486.00" y="540.37" width="11.50" height="3.84" fill="#e09a78"/>
<rect x="272.00" y="544.21" width="11.50" height="3.84" fill="#28a957"/>
<rect x="283.50" y="544.21" width="11.50" height="3.84" fill="#e09a78"/>
<rect x="329.50" y="544.21" width="11.50" height="3.84" fill="#74c797"/>
<rect x="352.50" y="544.21" width="11.50" height="3.84" fill="#e8e8eb"/>
<rect x="366.00" y="544.21" width="11.50" height="3.84" fill="#f9e2d3"/>
<rect x="377.50" y="544.21" width="11.50" height="3.84" fill="#f9e2d3"/>
<rect x="389.00" y="544.21" width="11.50" height="3.84" fill="#e09a78"/>
<rect x="403.50" y="544.21" width="11.50" height="3.84" fill="#28a957"/>
<rect x="415.00" y="544.21" width="11.50" height="3.84" fill="#28a957"/>
<rect x="426.50" y="544.21" width="11.50" height="3.84" fill="#74c797"/>
<rect x="461.00" y="544.21" width="11.50" height="3.84" fill="#74c797"/>
<rect x="486.00" y="544.21" width="11.50" height="3.84" fill="#e8e8eb"/>
<rect x="272.00" y="548.05" width="11.50" height="3.84" fill="#74c797"/>
<rect x="283.50" y="548.05" width="11.50" height="3.84" fill="#e09a78"/>
<rect x="295.00" y="548.05" width="11.50" height="3.84" fill="#74c797"/>
<rect x="329.50" y="548.05" width="11.50" height="3.84" fill="#74c797"/>
<rect x="352.50" y="548.05" width="11.50" height="3.84" fill="#e8e8eb"/>
<rect x="366.00" y="548.05" width="11.50" height="3.84" fill="#f9e2d3"/>
<rect x="377.50" y="548.05" width="11.50" height="3.84" fill="#f9e2d3"/>
<rect x="389.00" y="548.05" width="11.50" height="3.84" fill="#813f17"/>
<rect x="403.50" y="548.05" width="11.50" height="3.84" fill="#28a957"/>
<rect x="415.00" y="548.05" width="11.50" height="3.84" fill="#e09a78"/>
<rect x="426.50" y="548.05" width="11.50" height="3.84" fill="#74c797"/>
<rect x="461.00" y="548.05" width="11.50" height="3.84" fill="#74c797"/>
<rect x="486.00" y="548.05" width="11.50" height="3.84" fill="#e8e8eb"/>
<rect x="497.50" y="548.05" width="11.50" height="3.84" fill="#813f17"/>
<rect x="272.00" y="551.89" width="11.50" height="3.84" fill="#74c797"/>
<rect x="283.50" y="551.89" width="11.50" height="3.84" fill="#e09a78"/>
<rect x="295.00" y="551.89" width="11.50" height="3.84" fill="#74c797"/>
<rect x="329.50" y="551.89" width="11.50" height="3.84" fill="#74c797"/>
<rect x="352.50" y="551.89" width="11.50" height="3.84" fill="#e8e8eb"/>
<rect x="366.00" y="551.89" width="11.50" height="3.84" fill="#f9e2d3"/>
<rect x="377.50" y="551.89" width="11.50" height="3.84" fill="#f9e2d3"/>
<rect x="389.00" y="551.89" width="11.50" height="3.84" fill="#813f17"/>
<rect x="403.50" y="551.89" width="11.50" height="3.84" fill="#74c797"/>
<rect x="415.00" y="551.89" width="11.50" height="3.84" fill="#74c797"/>
<rect x="426.50" y="551.89" width="11.50" height="3.84" fill="#74c797"/>
<rect x="461.00" y="551.89" width="11.50" height="3.84" fill="#74c797"/>
<rect x="486.00" y="551.89" width="11.50" height="3.84" fill="#e8e8eb"/>
<rect x="497.50" y="551.89" width="11.50" height="3.84" fill="#813f17"/>
<rect x="272.00" y="555.73" width="11.50" height="3.84" fill="#74c797"/>
<rect x="283.50" y="555.73" width="11.50" height="3.84" fill="#e09a78"/>
<rect x="295.00" y="555.73" width="11.50" height="3.84" fill="#74c797"/>
<rect x="329.50" y="555.73" width="11.50" height="3.84" fill="#74c797"/>
<rect x="352.50" y="555.73" width="11.50" height="3.84" fill="#e8e8eb"/>
<rect x="366.00" y="555.73" width="11.50" height="3.84" fill="#f9e2d3"/>
<rect x="377.50" y="555.73" width="11.50" height="3.84" fill="#f9e2d3"/>
<rect x="389.00" y="555.73" width="11.50" height="3.84" fill="#bb6d3e"/>
<rect x="403.50" y="555.73" width="11.50" height="3.84" fill="#28a957"/>
<rect x="415.00" y="555.73" width="11.50" height="3.84" fill="#74c797"/>
<rect x="426.50" y="555.73" width="11.50" height="3.84" fill="#74c797"/>
<rect x="461.00" y="555.73" width="11.50" height="3.84" fill="#74c797"/>
<rect x="486.00" y="555.73" width="11.50" height="3.84" fill="#e8e8eb"/>
<rect x="497.50" y="555.73" width="11.50" height="3.84" fill="#813f17"/>
<rect x="272.00" y="559.57" width="11.50" height="3.84" fill="#74c797"/>
<rect x="329.50" y="559.57" width="11.50" height="3.84" fill="#74c797"/>
<rect x="352.50" y="559.57" width="11.50" height="3.84" fill="#e8e8eb"/>
<rect x="389.00" y="559.57" width="11.50" height="3.84" fill="#bb6d3e"/>
<rect x="403.50" y="559.57" width="11.50" height="3.84" fill="#74c797"/>
<rect x="415.00" y="559.57" width="11.50" height="3.84" fill="#74c797"/>
<rect x="461.00" y="559.57" width="11.50" height="3.84" fill="#74c797"/>
<rect x="272.00" y="563.41" width="11.50" height="3.84" fill="#74c797"/>
<rect x="295.00" y="563.41" width="11.50" height="3.84" fill="#74c797"/>
<rect x="306.50" y="563.41" width="11.50" height="3.84" fill="#74c797"/>
<rect x="318.00" y="563.41" width="11.50" height="3.84" fill="#74c797"/>
<rect x="352.50" y="563.41" width="11.50" height="3.84" fill="#28a957"/>
<rect x="366.00" y="563.41" width="11.50" height="3.84" fill="#813f17"/>
<rect x="377.50" y="563.41" width="11.50" height="3.84" fill="#813f17"/>
<rect x="389.00" y="563.41" width="11.50" height="3.84" fill="#813f17"/>
<rect x="403.50" y="563.41" width="11.50" height="3.84" fill="#28a957"/>
<rect x="415.00" y="563.41" width="11.50" height="3.84" fill="#28a957"/>
<rect x="426.50" y="563.41" width="11.50" height="3.84" fill="#74c797"/>
<rect x="438.00" y="563.41" width="11.50" height="3.84" fill="#74c797"/>
<rect x="449.50" y="563.41" width="11.50" height="3.84" fill="#74c797"/>
<rect x="461.00" y="563.41" width="11.50" height="3.84" fill="#74c797"/>
<rect x="486.00" y="563.41" width="11.50" height="3.84" fill="#bb6d3e"/>
<rect x="497.50" y="563.41" width="11.50" height="3.84" fill="#813f17"/>
<rect x="272.00" y="567.25" width="11.50" height="3.84" fill="#74c797"/>
<rect x="283.50" y="567.25" width="11.50" height="3.84" fill="#e09a78"/>
<rect x="329.50" y="567.25" width="11.50" height="3.84" fill="#e09a78"/>
<rect x="352.50" y="567.25" width="11.50" height="3.84" fill="#e8e8eb"/>
<rect x="366.00" y="567.25" width="11.50" height="3.84" fill="#e09a78"/>
<rect x="403.50" y="567.25" width="11.50" height="3.84" fill="#74c797"/>
<rect x="461.00" y="567.25" width="11.50" height="3.84" fill="#e09a78"/>
<rect x="486.00" y="567.25" width="11.50" height="3.84" fill="#f9e2d3"/>
<rect x="272.00" y="571.09" width="11.50" height="3.84" fill="#74c797"/>
<rect x="295.00" y="571.09" width="11.50" height="3.84" fill="#74c797"/>
<rect x="352.50" y="571.09" width="11.50" height="3.84" fill="#e8e8eb"/>
<rect x="366.00" y="571.09" width="11.50" height="3.84" fill="#813f17"/>
<rect x="377.50" y="571.09" width="11.50" height="3.84" fill="#813f17"/>
<rect x="389.00" y="571.09" width="11.50" height="3.84" fill="#813f17"/>
<rect x="403.50" y="571.09" width="11.50" height="3.84" fill="#74c797"/>
<rect x="415.00" y="571.09" width="11.50" height="3.84" fill="#74c797"/>
<rect x="426.50" y="571.09" width="11.50" height="3.84" fill="#e09a78"/>
<rect x="461.00" y="571.09" width="11.50" height="3.84" fill="#e09a78"/>
<rect x="486.00" y="571.09" width="11.50" height="3.84" fill="#813f17"/>
<rect x="497.50" y="571.09" width="11.50" height="3.84" fill="#813f17"/>
<rect x="272.00" y="574.93" width="11.50" height="3.84" fill="#74c797"/>
<rect x="329.50" y="574.93" width="11.50" height="3.84" fill="#74c797"/>
<rect x="352.50" y="574.93" width="11.50" height="3.84" fill="#e8e8eb"/>
<rect x="366.00" y="574.93" width="11.50" height="3.84" fill="#813f17"/>
<rect x="377.50" y="574.93" width="11.50" height="3.84" fill="#813f17"/>
<rect x="389.00" y="574.93" width="11.50" height="3.84" fill="#813f17"/>
<rect x="403.50" y="574.93" width="11.50" height="3.84" fill="#74c797"/>
<rect x="461.00" y="574.93" width="11.50" height="3.84" fill="#74c797"/>
<rect x="486.00" y="574.93" width="11.50" height="3.84" fill="#813f17"/>
<rect x="272.00" y="578.77" width="11.50" height="3.84" fill="#28a957"/>
<rect x="295.00" y="578.77" width="11.50" height="3.84" fill="#74c797"/>
<rect x="329.50" y="578.77" width="11.50" height="3.84" fill="#74c797"/>
<rect x="352.50" y="578.77" width="11.50" height="3.84" fill="#28a957"/>
<rect x="366.00" y="578.77" width="11.50" height="3.84" fill="#813f17"/>
<rect x="377.50" y="578.77" width="11.50" height="3.84" fill="#813f17"/>
<rect x="389.00" y="578.77" width="11.50" height="3.84" fill="#813f17"/>
<rect x="403.50" y="578.77" width="11.50" height="3.84" fill="#28a957"/>
<rect x="415.00" y="578.77" width="11.50" height="3.84" fill="#28a957"/>
<rect x="426.50" y="578.77" width="11.50" height="3.84" fill="#74c797"/>
<rect x="438.00" y="578.77" width="11.50" height="3.84" fill="#e09a78"/>
<rect x="449.50" y="578.77" width="11.50" height="3.84" fill="#74c797"/>
<rect x="461.00" y="578.77" width="11.50" height="3.84" fill="#74c797"/>
<rect x="486.00" y="578.77" width="11.50" height="3.84" fill="#813f17"/>
<rect x="497.50" y="578.77" width="11.50" height="3.84" fill="#813f17"/>
<line x1="272.00" y1="490.45" x2="509.00" y2="490.45" stroke="#a9b0d4" stroke-width="1.1" shape-rendering="auto"/>
<line x1="272.80" y1="509.65" x2="509.00" y2="509.65" stroke="#4f64a0" stroke-width="1.1" stroke-dasharray="3.7 2.55" shape-rendering="auto"/>
<line x1="272.00" y1="528.85" x2="509.00" y2="528.85" stroke="#4d63aa" stroke-width="1.1" shape-rendering="auto"/>
<line x1="272.80" y1="548.05" x2="509.00" y2="548.05" stroke="#4f64a0" stroke-width="1.1" stroke-dasharray="3.7 2.55" shape-rendering="auto"/>
<line x1="272.00" y1="567.25" x2="509.00" y2="567.25" stroke="#4d63aa" stroke-width="1.1" shape-rendering="auto"/>
<line x1="271.30" y1="487.20" x2="271.30" y2="583.70" stroke="#111" stroke-width="1.3"/>
<line x1="270.70" y1="583.10" x2="512.00" y2="583.10" stroke="#111" stroke-width="1.3"/>
<text x="277.75" y="484.00" class="hd">h1</text>
<text x="289.25" y="484.00" class="hd">2</text>
<text x="300.75" y="484.00" class="hd">3</text>
<text x="312.25" y="484.00" class="hd">4</text>
<text x="323.75" y="484.00" class="hd">5</text>
<text x="335.25" y="484.00" class="hd">6</text>
<text x="346.75" y="484.00" class="hd">7</text>
<text x="358.25" y="484.00" class="hd">8</text>
<text x="371.75" y="484.00" class="hd">9</text>
<text x="383.25" y="484.00" class="hd">9'</text>
<text x="394.75" y="484.00" class="hd">10</text>
<text x="409.25" y="484.00" class="hd">m1</text>
<text x="420.75" y="484.00" class="hd">2</text>
<text x="432.25" y="484.00" class="hd">3</text>
<text x="443.75" y="484.00" class="hd">4</text>
<text x="455.25" y="484.00" class="hd">5</text>
<text x="466.75" y="484.00" class="hd">6</text>
<text x="478.25" y="484.00" class="hd">7</text>
<text x="491.75" y="484.00" class="hd">8</text>
<text x="503.25" y="484.00" class="hd">9</text>
<rect x="409.15" y="591.30" width="1.5" height="9.70" fill="#5a6a88" shape-rendering="auto"/><path d="M407.10 592.00 L409.90 586.30 L412.70 592.00 Z" fill="#243a5e" shape-rendering="auto"/>
<rect x="465.65" y="591.60" width="1.5" height="9.60" fill="#5a6a88" shape-rendering="auto"/><path d="M463.60 592.30 L466.40 586.60 L469.20 592.30 Z" fill="#243a5e" shape-rendering="auto"/>
<rect x="401.60" y="639.30" width="1.80" height="41.36" fill="#c9d4ee"/>
<rect x="352.50" y="639.30" width="11.50" height="3.76" fill="#e8e8eb"/>
<rect x="366.00" y="639.30" width="11.50" height="3.76" fill="#e09a78"/>
<rect x="377.50" y="639.30" width="11.50" height="3.76" fill="#e09a78"/>
<rect x="389.00" y="639.30" width="11.50" height="3.76" fill="#e09a78"/>
<rect x="403.50" y="639.30" width="11.50" height="3.76" fill="#74c797"/>
<rect x="461.00" y="639.30" width="11.50" height="3.76" fill="#f9e2d3"/>
<rect x="486.00" y="639.30" width="11.50" height="3.76" fill="#e8e8eb"/>
<rect x="318.00" y="643.06" width="11.50" height="3.76" fill="#e09a78"/>
<rect x="341.00" y="643.06" width="11.50" height="3.76" fill="#74c797"/>
<rect x="352.50" y="643.06" width="11.50" height="3.76" fill="#e8e8eb"/>
<rect x="366.00" y="643.06" width="11.50" height="3.76" fill="#f9e2d3"/>
<rect x="389.00" y="643.06" width="11.50" height="3.76" fill="#e09a78"/>
<rect x="403.50" y="643.06" width="11.50" height="3.76" fill="#28a957"/>
<rect x="415.00" y="643.06" width="11.50" height="3.76" fill="#74c797"/>
<rect x="461.00" y="643.06" width="11.50" height="3.76" fill="#e09a78"/>
<rect x="486.00" y="643.06" width="11.50" height="3.76" fill="#e8e8eb"/>
<rect x="272.00" y="646.82" width="11.50" height="3.76" fill="#74c797"/>
<rect x="352.50" y="646.82" width="11.50" height="3.76" fill="#e8e8eb"/>
<rect x="366.00" y="646.82" width="11.50" height="3.76" fill="#e09a78"/>
<rect x="377.50" y="646.82" width="11.50" height="3.76" fill="#f9e2d3"/>
<rect x="389.00" y="646.82" width="11.50" height="3.76" fill="#f9e2d3"/>
<rect x="403.50" y="646.82" width="11.50" height="3.76" fill="#74c797"/>
<rect x="426.50" y="646.82" width="11.50" height="3.76" fill="#74c797"/>
<rect x="486.00" y="646.82" width="11.50" height="3.76" fill="#e8e8eb"/>
<rect x="352.50" y="650.58" width="11.50" height="3.76" fill="#e8e8eb"/>
<rect x="366.00" y="650.58" width="11.50" height="3.76" fill="#f9e2d3"/>
<rect x="377.50" y="650.58" width="11.50" height="3.76" fill="#f9e2d3"/>
<rect x="403.50" y="650.58" width="11.50" height="3.76" fill="#28a957"/>
<rect x="415.00" y="650.58" width="11.50" height="3.76" fill="#28a957"/>
<rect x="461.00" y="650.58" width="11.50" height="3.76" fill="#74c797"/>
<rect x="486.00" y="650.58" width="11.50" height="3.76" fill="#e8e8eb"/>
<rect x="283.50" y="654.34" width="11.50" height="3.76" fill="#e09a78"/>
<rect x="352.50" y="654.34" width="11.50" height="3.76" fill="#e8e8eb"/>
<rect x="366.00" y="654.34" width="11.50" height="3.76" fill="#f9e2d3"/>
<rect x="377.50" y="654.34" width="11.50" height="3.76" fill="#f9e2d3"/>
<rect x="389.00" y="654.34" width="11.50" height="3.76" fill="#813f17"/>
<rect x="403.50" y="654.34" width="11.50" height="3.76" fill="#28a957"/>
<rect x="461.00" y="654.34" width="11.50" height="3.76" fill="#74c797"/>
<rect x="486.00" y="654.34" width="11.50" height="3.76" fill="#e8e8eb"/>
<rect x="295.00" y="658.10" width="11.50" height="3.76" fill="#74c797"/>
<rect x="352.50" y="658.10" width="11.50" height="3.76" fill="#74c797"/>
<rect x="366.00" y="658.10" width="11.50" height="3.76" fill="#813f17"/>
<rect x="377.50" y="658.10" width="11.50" height="3.76" fill="#813f17"/>
<rect x="389.00" y="658.10" width="11.50" height="3.76" fill="#813f17"/>
<rect x="403.50" y="658.10" width="11.50" height="3.76" fill="#74c797"/>
<rect x="415.00" y="658.10" width="11.50" height="3.76" fill="#74c797"/>
<rect x="426.50" y="658.10" width="11.50" height="3.76" fill="#74c797"/>
<rect x="461.00" y="658.10" width="11.50" height="3.76" fill="#74c797"/>
<rect x="486.00" y="658.10" width="11.50" height="3.76" fill="#813f17"/>
<rect x="497.50" y="658.10" width="11.50" height="3.76" fill="#813f17"/>
<rect x="352.50" y="661.86" width="11.50" height="3.76" fill="#e8e8eb"/>
<rect x="366.00" y="661.86" width="11.50" height="3.76" fill="#e09a78"/>
<rect x="377.50" y="661.86" width="11.50" height="3.76" fill="#f9e2d3"/>
<rect x="389.00" y="661.86" width="11.50" height="3.76" fill="#e09a78"/>
<rect x="403.50" y="661.86" width="11.50" height="3.76" fill="#74c797"/>
<rect x="415.00" y="661.86" width="11.50" height="3.76" fill="#74c797"/>
<rect x="426.50" y="661.86" width="11.50" height="3.76" fill="#74c797"/>
<rect x="461.00" y="661.86" width="11.50" height="3.76" fill="#74c797"/>
<rect x="486.00" y="661.86" width="11.50" height="3.76" fill="#e8e8eb"/>
<rect x="272.00" y="665.62" width="11.50" height="3.76" fill="#74c797"/>
<rect x="283.50" y="665.62" width="11.50" height="3.76" fill="#e09a78"/>
<rect x="341.00" y="665.62" width="11.50" height="3.76" fill="#74c797"/>
<rect x="352.50" y="665.62" width="11.50" height="3.76" fill="#28a957"/>
<rect x="366.00" y="665.62" width="11.50" height="3.76" fill="#f9e2d3"/>
<rect x="377.50" y="665.62" width="11.50" height="3.76" fill="#f9e2d3"/>
<rect x="403.50" y="665.62" width="11.50" height="3.76" fill="#74c797"/>
<rect x="461.00" y="665.62" width="11.50" height="3.76" fill="#74c797"/>
<rect x="486.00" y="665.62" width="11.50" height="3.76" fill="#e09a78"/>
<rect x="272.00" y="669.38" width="11.50" height="3.76" fill="#74c797"/>
<rect x="329.50" y="669.38" width="11.50" height="3.76" fill="#74c797"/>
<rect x="352.50" y="669.38" width="11.50" height="3.76" fill="#e8e8eb"/>
<rect x="366.00" y="669.38" width="11.50" height="3.76" fill="#bb6d3e"/>
<rect x="377.50" y="669.38" width="11.50" height="3.76" fill="#813f17"/>
<rect x="403.50" y="669.38" width="11.50" height="3.76" fill="#28a957"/>
<rect x="461.00" y="669.38" width="11.50" height="3.76" fill="#74c797"/>
<rect x="472.50" y="669.38" width="11.50" height="3.76" fill="#74c797"/>
<rect x="486.00" y="669.38" width="11.50" height="3.76" fill="#e09a78"/>
<rect x="272.00" y="673.14" width="11.50" height="3.76" fill="#74c797"/>
<rect x="295.00" y="673.14" width="11.50" height="3.76" fill="#74c797"/>
<rect x="306.50" y="673.14" width="11.50" height="3.76" fill="#74c797"/>
<rect x="318.00" y="673.14" width="11.50" height="3.76" fill="#74c797"/>
<rect x="352.50" y="673.14" width="11.50" height="3.76" fill="#e8e8eb"/>
<rect x="366.00" y="673.14" width="11.50" height="3.76" fill="#bb6d3e"/>
<rect x="377.50" y="673.14" width="11.50" height="3.76" fill="#813f17"/>
<rect x="389.00" y="673.14" width="11.50" height="3.76" fill="#f9e2d3"/>
<rect x="403.50" y="673.14" width="11.50" height="3.76" fill="#28a957"/>
<rect x="415.00" y="673.14" width="11.50" height="3.76" fill="#e09a78"/>
<rect x="426.50" y="673.14" width="11.50" height="3.76" fill="#74c797"/>
<rect x="438.00" y="673.14" width="11.50" height="3.76" fill="#74c797"/>
<rect x="461.00" y="673.14" width="11.50" height="3.76" fill="#74c797"/>
<rect x="486.00" y="673.14" width="11.50" height="3.76" fill="#e09a78"/>
<rect x="497.50" y="673.14" width="11.50" height="3.76" fill="#f9e2d3"/>
<rect x="272.00" y="676.90" width="11.50" height="3.76" fill="#28a957"/>
<rect x="295.00" y="676.90" width="11.50" height="3.76" fill="#74c797"/>
<rect x="306.50" y="676.90" width="11.50" height="3.76" fill="#e09a78"/>
<rect x="318.00" y="676.90" width="11.50" height="3.76" fill="#74c797"/>
<rect x="329.50" y="676.90" width="11.50" height="3.76" fill="#74c797"/>
<rect x="352.50" y="676.90" width="11.50" height="3.76" fill="#e8e8eb"/>
<rect x="366.00" y="676.90" width="11.50" height="3.76" fill="#f9e2d3"/>
<rect x="377.50" y="676.90" width="11.50" height="3.76" fill="#f9e2d3"/>
<rect x="403.50" y="676.90" width="11.50" height="3.76" fill="#74c797"/>
<rect x="461.00" y="676.90" width="11.50" height="3.76" fill="#e09a78"/>
<rect x="486.00" y="676.90" width="11.50" height="3.76" fill="#f9e2d3"/>
<line x1="272.00" y1="639.30" x2="509.00" y2="639.30" stroke="#a9b0d4" stroke-width="1.1" shape-rendering="auto"/>
<line x1="272.80" y1="658.10" x2="509.00" y2="658.10" stroke="#4f64a0" stroke-width="1.1" stroke-dasharray="3.7 2.55" shape-rendering="auto"/>
<line x1="272.00" y1="676.90" x2="509.00" y2="676.90" stroke="#4d63aa" stroke-width="1.1" shape-rendering="auto"/>
<line x1="271.30" y1="637.30" x2="271.30" y2="681.00" stroke="#111" stroke-width="1.3"/>
<line x1="270.70" y1="680.40" x2="512.00" y2="680.40" stroke="#111" stroke-width="1.3"/>
<text x="277.75" y="633.20" class="hd">h1</text>
<text x="289.25" y="633.20" class="hd">2</text>
<text x="300.75" y="633.20" class="hd">3</text>
<text x="312.25" y="633.20" class="hd">4</text>
<text x="323.75" y="633.20" class="hd">5</text>
<text x="335.25" y="633.20" class="hd">6</text>
<text x="346.75" y="633.20" class="hd">7</text>
<text x="358.25" y="633.20" class="hd">8</text>
<text x="371.75" y="633.20" class="hd">9</text>
<text x="383.25" y="633.20" class="hd">9'</text>
<text x="394.75" y="633.20" class="hd">10</text>
<text x="409.25" y="633.20" class="hd">m1</text>
<text x="420.75" y="633.20" class="hd">2</text>
<text x="432.25" y="633.20" class="hd">3</text>
<text x="443.75" y="633.20" class="hd">4</text>
<text x="455.25" y="633.20" class="hd">5</text>
<text x="466.75" y="633.20" class="hd">6</text>
<text x="478.25" y="633.20" class="hd">7</text>
<text x="491.75" y="633.20" class="hd">8</text>
<text x="503.25" y="633.20" class="hd">9</text>
<line x1="277.75" y1="680.66" x2="277.75" y2="684.46" stroke="#111" stroke-width="1.2"/>
<text transform="translate(280.75,686.8) rotate(-90)" class="rl">Bleeding</text>
<line x1="289.25" y1="680.66" x2="289.25" y2="684.46" stroke="#111" stroke-width="1.2"/>
<text transform="translate(292.25,686.8) rotate(-90)" class="rl">Thromboph</text>
<line x1="300.75" y1="680.66" x2="300.75" y2="684.46" stroke="#111" stroke-width="1.2"/>
<text transform="translate(303.75,686.8) rotate(-90)" class="rl">P-function</text>
<line x1="312.25" y1="680.66" x2="312.25" y2="684.46" stroke="#111" stroke-width="1.2"/>
<text transform="translate(315.25,686.8) rotate(-90)" class="rl">P-morph</text>
<line x1="323.75" y1="680.66" x2="323.75" y2="684.46" stroke="#111" stroke-width="1.2"/>
<text transform="translate(326.75,686.8) rotate(-90)" class="rl">P-count</text>
<line x1="335.25" y1="680.66" x2="335.25" y2="684.46" stroke="#111" stroke-width="1.2"/>
<text transform="translate(338.25,686.8) rotate(-90)" class="rl">Coagul</text>
<line x1="346.75" y1="680.66" x2="346.75" y2="684.46" stroke="#111" stroke-width="1.2"/>
<text transform="translate(349.75,686.8) rotate(-90)" class="rl">Erythrocyte</text>
<line x1="358.25" y1="680.66" x2="358.25" y2="684.46" stroke="#111" stroke-width="1.2"/>
<text transform="translate(361.25,686.8) rotate(-90)" class="rl">GWAS</text>
<line x1="371.75" y1="680.66" x2="371.75" y2="684.46" stroke="#111" stroke-width="1.2"/>
<text transform="translate(374.75,686.8) rotate(-90)" class="rl">P-mRNA</text>
<line x1="383.25" y1="680.66" x2="383.25" y2="684.46" stroke="#111" stroke-width="1.2"/>
<text transform="translate(386.25,686.8) rotate(-90)" class="rl">MGK-mRNA</text>
<line x1="394.75" y1="680.66" x2="394.75" y2="684.46" stroke="#111" stroke-width="1.2"/>
<text transform="translate(397.75,686.8) rotate(-90)" class="rl">Protein</text>
<line x1="409.25" y1="680.66" x2="409.25" y2="684.46" stroke="#111" stroke-width="1.2"/>
<text transform="translate(412.25,686.8) rotate(-90)" class="rl">Bleeding</text>
<line x1="420.75" y1="680.66" x2="420.75" y2="684.46" stroke="#111" stroke-width="1.2"/>
<text transform="translate(423.75,686.8) rotate(-90)" class="rl">Thrombos</text>
<line x1="432.25" y1="680.66" x2="432.25" y2="684.46" stroke="#111" stroke-width="1.2"/>
<text transform="translate(435.25,686.8) rotate(-90)" class="rl">P-function</text>
<line x1="443.75" y1="680.66" x2="443.75" y2="684.46" stroke="#111" stroke-width="1.2"/>
<text transform="translate(446.75,686.8) rotate(-90)" class="rl">P-morph</text>
<line x1="455.25" y1="680.66" x2="455.25" y2="684.46" stroke="#111" stroke-width="1.2"/>
<text transform="translate(458.25,686.8) rotate(-90)" class="rl">P-count</text>
<line x1="466.75" y1="680.66" x2="466.75" y2="684.46" stroke="#111" stroke-width="1.2"/>
<text transform="translate(469.75,686.8) rotate(-90)" class="rl">Coagul</text>
<line x1="478.25" y1="680.66" x2="478.25" y2="684.46" stroke="#111" stroke-width="1.2"/>
<text transform="translate(481.25,686.8) rotate(-90)" class="rl">Erythrocyte</text>
<line x1="491.75" y1="680.66" x2="491.75" y2="684.46" stroke="#111" stroke-width="1.2"/>
<text transform="translate(494.75,686.8) rotate(-90)" class="rl">mRNA</text>
<line x1="503.25" y1="680.66" x2="503.25" y2="684.46" stroke="#111" stroke-width="1.2"/>
<text transform="translate(506.25,686.8) rotate(-90)" class="rl">Protein</text>
<rect x="409.25" y="729.20" width="1.5" height="9.40" fill="#5a6a88" shape-rendering="auto"/><path d="M407.20 729.90 L410.00 724.20 L412.80 729.90 Z" fill="#243a5e" shape-rendering="auto"/>
<rect x="432.85" y="733.60" width="1.5" height="9.40" fill="#5a6a88" shape-rendering="auto"/><path d="M430.80 734.30 L433.60 728.60 L436.40 734.30 Z" fill="#243a5e" shape-rendering="auto"/>
<text x="7.5" y="17.90" class="pl">A</text>
<text x="23.4" y="15.70" class="ti" textLength="243.4" lengthAdjust="spacingAndGlyphs">Mouse bleeding &amp; thrombocytopenia − non-syndromic</text>
<text x="7.5" y="180.80" class="pl">B</text>
<text x="23.4" y="178.50" class="ti" textLength="223.8" lengthAdjust="spacingAndGlyphs">Mouse bleeding &amp; thrombocytopenia − syndromic</text>
<text x="7.5" y="472.30" class="pl">C</text>
<text x="23.4" y="470.70" class="ti" textLength="215.1" lengthAdjust="spacingAndGlyphs">Mouse bleeding &amp; coagulation − non-syndromic</text>
<text x="7.5" y="621.50" class="pl">D</text>
<text x="23.4" y="619.70" class="ti" textLength="194.6" lengthAdjust="spacingAndGlyphs">Mouse bleeding &amp; coagulation − syndromic</text>
<text x="23.40" y="50.10" class="gk">BCL2L1</text>
<text x="70.90" y="50.10" class="gk">BLOC1S2</text>
<text x="125.60" y="50.10" class="gk">CREG1</text>
<text x="174.60" y="50.10" class="gk">ERG</text>
<text x="224.60" y="50.10" class="gk">FUNDC2</text>
<text x="23.40" y="62.70" class="gk">INPP5D</text>
<text x="70.90" y="62.70" class="gk">KPNA1</text>
<text x="125.60" y="62.70" class="gk">MEIS1</text>
<text x="174.60" y="62.70" class="gk">MFAP2</text>
<text x="224.60" y="62.70" class="gk">MIR99B</text>
<text x="23.40" y="86.80" class="gk">NFE2</text>
<text x="70.90" y="86.80" class="gk">PCBP2</text>
<text x="125.60" y="86.80" class="gk">PLD4</text>
<text x="174.60" y="86.80" class="gk">RABGGTA</text>
<text x="224.60" y="86.80" class="gk">RASA3</text>
<text x="23.40" y="99.40" class="gk">TMSB4X</text>
<text x="70.90" y="99.40" class="gk">TOM1L2</text>
<text x="125.60" y="99.40" class="gb">GFI1B</text>
<text x="174.60" y="99.40" class="gb">GP1BA</text>
<text x="224.60" y="99.40" class="gb">GP1BB</text>
<text x="23.40" y="123.50" class="gb">ITGA2B</text>
<text x="70.90" y="123.50" class="gb">ITGB3</text>
<text x="125.60" y="123.50" class="gb">MPIG6B</text>
<text x="174.60" y="123.50" class="gb">NBEAL2</text>
<text x="224.60" y="123.50" class="gb">TLN1</text>
<text x="23.40" y="136.00" class="gb">TPM4</text>
<text x="70.90" y="136.00" class="gb">TUBB1</text>
<text x="125.60" y="136.00" class="gb">TUBB1</text>
<text x="174.60" y="136.00" class="gb">VWF</text>
<text x="23.40" y="212.80" class="gk">B4GALT1</text>
<text x="70.90" y="212.80" class="gk">C1GALT1C1</text>
<text x="125.60" y="212.80" class="gk">CD40LG</text>
<text x="174.60" y="212.80" class="gk">COL2A1</text>
<text x="224.60" y="212.80" class="gk">CSK</text>
<text x="23.40" y="225.30" class="gk">DNM2</text>
<text x="70.90" y="225.30" class="gk">ENTPD1</text>
<text x="125.60" y="225.30" class="gk">ETS1</text>
<text x="174.60" y="225.30" class="gk">FLI1</text>
<text x="224.60" y="225.30" class="gk">FOXP3</text>
<text x="23.40" y="249.50" class="gk">GATA2</text>
<text x="70.90" y="249.50" class="gk">GRIN1</text>
<text x="125.60" y="249.50" class="gk">HBB</text>
<text x="174.60" y="249.50" class="gk">HIRA</text>
<text x="224.60" y="249.50" class="gk">HSP90B1</text>
<text x="23.40" y="262.00" class="gk">IRGM</text>
<text x="70.90" y="262.00" class="gk">KCTD1</text>
<text x="125.60" y="262.00" class="gk">KL</text>
<text x="174.60" y="262.00" class="gk">KMT2A</text>
<text x="224.60" y="262.00" class="gk">KRAS</text>
<text x="23.40" y="286.20" class="gk">LDLRAP1</text>
<text x="70.90" y="286.20" class="gk">MDFIC</text>
<text x="125.60" y="286.20" class="gk">MDM2</text>
<text x="174.60" y="286.20" class="gk">MFN2</text>
<text x="224.60" y="286.20" class="gk">MPL</text>
<text x="23.40" y="298.70" class="gk">PDGFB</text>
<text x="70.90" y="298.70" class="gk">PDGFRB</text>
<text x="125.60" y="298.70" class="gk">PER2</text>
<text x="174.60" y="298.70" class="gk">PFN1</text>
<text x="224.60" y="298.70" class="gk">RHOA</text>
<text x="23.40" y="322.90" class="gk">RPS19</text>
<text x="70.90" y="322.90" class="gk">SLC2A1</text>
<text x="125.60" y="322.90" class="gk">SLX4</text>
<text x="174.60" y="322.90" class="gk">SNAI2</text>
<text x="224.60" y="322.90" class="gk">SOX17</text>
<text x="23.40" y="335.40" class="gk">SRSF3</text>
<text x="70.90" y="335.40" class="gk">TAL1</text>
<text x="125.60" y="335.40" class="gk">TAL1</text>
<text x="174.60" y="335.40" class="gk">TP53</text>
<text x="224.60" y="335.40" class="gk">TREML1</text>
<text x="23.40" y="359.60" class="gk">TWSG1</text>
<text x="70.90" y="359.60" class="gk">USP18</text>
<text x="125.60" y="359.60" class="gk">WDR1</text>
<text x="174.60" y="359.60" class="gk">XBP1</text>
<text x="224.60" y="359.60" class="gk">ZFP36L2</text>
<text x="23.40" y="372.10" class="gb">ABCG5</text>
<text x="70.90" y="372.10" class="gb">ABCG8</text>
<text x="125.60" y="372.10" class="gb">COL1A1</text>
<text x="174.60" y="372.10" class="gb">DTNBP1</text>
<text x="224.60" y="372.10" class="gb">FANCA</text>
<text x="23.40" y="396.30" class="gb">FANCD2</text>
<text x="70.90" y="396.30" class="gb">FLI1</text>
<text x="125.60" y="396.30" class="gb">FLNA</text>
<text x="174.60" y="396.30" class="gb">GATA1</text>
<text x="224.60" y="396.30" class="gb">MECOM</text>
<text x="23.40" y="408.80" class="gb">MYH9</text>
<text x="70.90" y="408.80" class="gb">PTPN11</text>
<text x="125.60" y="408.80" class="gb">RBM8A</text>
<text x="174.60" y="408.80" class="gb">RUNX1</text>
<text x="224.60" y="408.80" class="gb">SLC35A1</text>
<text x="23.40" y="433.00" class="gb">SMAD4</text>
<text x="70.90" y="433.00" class="gb">STIM1</text>
<text x="125.60" y="433.00" class="gb">UNC13D</text>
<text x="174.60" y="433.00" class="gb">WAS</text>
<text x="23.40" y="503.50" class="gk">C5</text>
<text x="70.90" y="503.50" class="gk">CEACAM1</text>
<text x="125.60" y="503.50" class="gk">F3</text>
<text x="174.60" y="503.50" class="gk">IP6K1</text>
<text x="224.60" y="503.50" class="gk">MGAT4B</text>
<text x="23.40" y="516.00" class="gk">PDIA3</text>
<text x="70.90" y="516.00" class="gk">RAPGEF3</text>
<text x="125.60" y="516.00" class="gk">TMX4</text>
<text x="174.60" y="516.00" class="gb">F10</text>
<text x="224.60" y="516.00" class="gb">F13A1</text>
<text x="23.40" y="541.20" class="gb">F2</text>
<text x="70.90" y="541.20" class="gb">F5</text>
<text x="125.60" y="541.20" class="gb">F7</text>
<text x="174.60" y="541.20" class="gb">F8</text>
<text x="224.60" y="541.20" class="gb">F9</text>
<text x="23.40" y="553.70" class="gb">FGA</text>
<text x="70.90" y="553.70" class="gb">FGB</text>
<text x="125.60" y="553.70" class="gb">FGG</text>
<text x="174.60" y="553.70" class="gb">KLKB1</text>
<text x="224.60" y="553.70" class="gb">NBEAL2</text>
<text x="23.40" y="577.80" class="gb">PLAT</text>
<text x="70.90" y="577.80" class="gb">PTGS1</text>
<text x="125.60" y="577.80" class="gb">VKORC1</text>
<text x="174.60" y="577.80" class="gb">VWF</text>
<text x="23.40" y="653.50" class="gk">C1QA</text>
<text x="70.90" y="653.50" class="gk">ELANE</text>
<text x="125.60" y="653.50" class="gk">G6PC1</text>
<text x="174.60" y="653.50" class="gk">GRIP1</text>
<text x="224.60" y="653.50" class="gk">HABP2</text>
<text x="23.40" y="666.00" class="gk">MAPK14</text>
<text x="70.90" y="666.00" class="gk">RELN</text>
<text x="125.60" y="666.00" class="gb">ACVRL1</text>
<text x="174.60" y="666.00" class="gb">GGCX</text>
<text x="224.60" y="666.00" class="gb">HPS5</text>
<text x="23.40" y="689.50" class="gb">PLAU</text>
<rect x="0.5" y="0.5" width="519" height="749" fill="none" stroke="#5a5a5a" stroke-width="1"/>
</svg>
</body></html>
